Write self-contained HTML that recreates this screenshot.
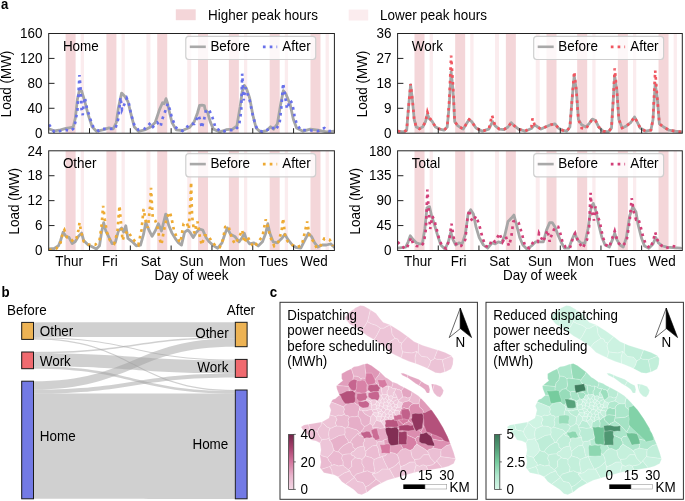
<!DOCTYPE html>
<html><head><meta charset="utf-8"><style>
html,body{margin:0;padding:0;background:#fff;width:685px;height:501px;overflow:hidden}
svg{display:block;will-change:transform}
text{font-family:"Liberation Sans", sans-serif}
</style></head><body>
<svg width="685" height="501" viewBox="0 0 685 501">
<clipPath id="clip00"><rect x="48.7" y="33.5" width="285.7" height="99.69999999999999"/></clipPath>
<g clip-path="url(#clip00)">
<rect x="65.60" y="33.5" width="10.00" height="99.70" fill="#f4d6d9"/>
<rect x="80.70" y="33.5" width="3.30" height="99.70" fill="#fbecee"/>
<rect x="106.41" y="33.5" width="10.00" height="99.70" fill="#f4d6d9"/>
<rect x="121.51" y="33.5" width="3.30" height="99.70" fill="#fbecee"/>
<rect x="157.23" y="33.5" width="10.00" height="99.70" fill="#f4d6d9"/>
<rect x="146.43" y="33.5" width="4.00" height="99.70" fill="#fbecee"/>
<rect x="198.04" y="33.5" width="10.00" height="99.70" fill="#f4d6d9"/>
<rect x="187.24" y="33.5" width="4.00" height="99.70" fill="#fbecee"/>
<rect x="228.86" y="33.5" width="10.00" height="99.70" fill="#f4d6d9"/>
<rect x="243.96" y="33.5" width="3.30" height="99.70" fill="#fbecee"/>
<rect x="269.67" y="33.5" width="10.00" height="99.70" fill="#f4d6d9"/>
<rect x="284.77" y="33.5" width="3.30" height="99.70" fill="#fbecee"/>
<rect x="310.49" y="33.5" width="10.00" height="99.70" fill="#f4d6d9"/>
<rect x="325.59" y="33.5" width="3.30" height="99.70" fill="#fbecee"/>
<polyline points="48.7,128.8 54.3,130.9 60.6,129.9 65.9,128.4 69.0,127.8 73.2,127.1 75.3,118.3 77.4,99.4 79.5,89.9 81.6,91.0 84.8,101.5 88.0,114.1 92.1,126.7 96.4,131.3 102.7,129.9 109.0,127.8 113.2,128.8 116.3,122.5 118.4,107.8 121.6,93.1 124.7,96.2 127.9,101.5 131.0,114.1 134.2,126.7 138.4,131.3 144.7,129.9 151.0,126.7 155.2,122.5 159.4,109.9 162.5,102.7 164.2,103.8 166.0,98.6 167.5,103.0 168.9,109.9 172.0,122.5 176.2,129.9 182.5,130.5 188.8,127.8 190.0,127.0 194.3,121.6 197.5,113.0 199.6,105.5 202.0,105.2 204.3,105.6 205.2,109.7 207.5,112.0 210.2,121.6 213.4,129.1 219.8,131.9 226.2,129.7 232.6,129.1 236.9,125.9 240.1,106.7 242.2,91.8 244.3,85.4 246.5,88.6 249.7,98.2 252.9,115.3 256.1,128.0 260.3,131.9 266.7,130.6 270.6,126.8 273.5,129.3 277.4,123.8 280.6,104.6 283.3,90.7 285.9,93.9 290.2,104.6 293.4,119.5 296.6,128.0 303.0,131.2 310.4,129.1 317.9,130.2 326.4,131.9 334.9,131.2" fill="none" stroke="#a6a6a6" stroke-width="2.8" stroke-linejoin="round" stroke-linecap="round"/>
<polyline points="49.0,124.6 54.3,132.0 60.0,131.0 66.0,130.0 70.0,131.0 73.2,128.8 75.3,122.5 77.4,109.9 78.5,93.1 79.5,75.2 80.6,88.9 81.6,109.9 82.7,115.1 83.7,103.6 84.8,97.3 86.9,107.8 90.0,118.3 93.2,126.7 98.5,130.9 102.7,128.8 109.0,128.8 115.3,128.8 118.4,118.3 120.5,97.3 122.0,109.9 124.7,103.6 126.8,98.3 128.9,103.6 131.0,114.1 134.2,124.6 138.4,129.9 144.7,128.8 151.0,122.5 153.1,126.7 157.3,122.5 160.5,126.7 162.6,118.3 165.7,109.9 167.8,103.6 169.9,109.9 172.0,118.3 176.2,127.8 182.5,130.9 188.0,126.0 190.0,123.8 194.3,123.8 198.5,115.3 200.7,121.6 201.7,128.0 203.9,120.6 206.0,110.0 209.2,110.0 212.4,117.4 215.6,128.0 222.0,131.9 228.4,130.2 234.8,130.2 239.0,125.9 241.2,111.0 242.2,73.7 243.7,100.3 245.4,87.5 247.5,93.9 249.7,100.3 251.8,111.0 253.9,119.5 257.1,129.1 262.5,131.9 268.9,129.1 272.1,127.0 275.3,130.2 279.5,123.8 281.6,104.6 283.1,83.3 284.8,93.9 287.0,108.9 290.2,100.3 292.3,103.5 294.4,115.3 296.6,123.8 300.8,130.2 309.4,130.2 317.9,131.2 324.3,128.0 328.5,131.2 334.0,131.0" fill="none" stroke="#6870ea" stroke-width="2.7" stroke-dasharray="2.7 4.1"/>
</g>
<rect x="48.7" y="33.5" width="285.70" height="99.70" fill="none" stroke="#222" stroke-width="1"/>
<line x1="89.51" y1="133.2" x2="89.51" y2="128.2" stroke="#222" stroke-width="1"/>
<line x1="130.33" y1="133.2" x2="130.33" y2="128.2" stroke="#222" stroke-width="1"/>
<line x1="171.14" y1="133.2" x2="171.14" y2="128.2" stroke="#222" stroke-width="1"/>
<line x1="211.96" y1="133.2" x2="211.96" y2="128.2" stroke="#222" stroke-width="1"/>
<line x1="252.77" y1="133.2" x2="252.77" y2="128.2" stroke="#222" stroke-width="1"/>
<line x1="293.59" y1="133.2" x2="293.59" y2="128.2" stroke="#222" stroke-width="1"/>
<text transform="translate(42.50,38.20) scale(1,1.04)" font-size="13.45" text-anchor="end" font-weight="normal" fill="#000" >160</text>
<line x1="48.7" y1="58.42" x2="54.5" y2="58.42" stroke="#222" stroke-width="1"/>
<text transform="translate(42.50,63.12) scale(1,1.04)" font-size="13.45" text-anchor="end" font-weight="normal" fill="#000" >120</text>
<line x1="48.7" y1="83.35" x2="54.5" y2="83.35" stroke="#222" stroke-width="1"/>
<text transform="translate(42.50,88.05) scale(1,1.04)" font-size="13.45" text-anchor="end" font-weight="normal" fill="#000" >80</text>
<line x1="48.7" y1="108.27" x2="54.5" y2="108.27" stroke="#222" stroke-width="1"/>
<text transform="translate(42.50,112.97) scale(1,1.04)" font-size="13.45" text-anchor="end" font-weight="normal" fill="#000" >40</text>
<text transform="translate(42.50,137.90) scale(1,1.04)" font-size="13.45" text-anchor="end" font-weight="normal" fill="#000" >0</text>
<text transform="translate(10.9,83.95) rotate(-90) scale(1,1.04)" font-size="13.45" text-anchor="middle">Load (MW)</text>
<text transform="translate(62.90,50.70) scale(1,1.04)" font-size="13.45" text-anchor="start" font-weight="normal" fill="#000" >Home</text>
<rect x="185.80" y="36.30" width="129.9" height="23.2" rx="3" fill="#fff" fill-opacity="0.8" stroke="#cfcfcf" stroke-width="1.2"/>
<line x1="189.80" y1="46.80" x2="205.80" y2="46.80" stroke="#a9a9a9" stroke-width="2.6"/>
<text transform="translate(210.40,51.10) scale(1,1.04)" font-size="13.45" text-anchor="start" font-weight="normal" fill="#000" >Before</text>
<line x1="262.90" y1="46.80" x2="277.20" y2="46.80" stroke="#6870ea" stroke-width="2.7" stroke-dasharray="2.7 4.1"/>
<text transform="translate(282.30,51.10) scale(1,1.04)" font-size="13.45" text-anchor="start" font-weight="normal" fill="#000" >After</text>
<clipPath id="clip10"><rect x="397.6" y="33.5" width="284.69999999999993" height="99.69999999999999"/></clipPath>
<g clip-path="url(#clip10)">
<rect x="414.50" y="33.5" width="10.00" height="99.70" fill="#f4d6d9"/>
<rect x="429.60" y="33.5" width="3.30" height="99.70" fill="#fbecee"/>
<rect x="455.17" y="33.5" width="10.00" height="99.70" fill="#f4d6d9"/>
<rect x="470.27" y="33.5" width="3.30" height="99.70" fill="#fbecee"/>
<rect x="505.84" y="33.5" width="10.00" height="99.70" fill="#f4d6d9"/>
<rect x="495.04" y="33.5" width="4.00" height="99.70" fill="#fbecee"/>
<rect x="546.51" y="33.5" width="10.00" height="99.70" fill="#f4d6d9"/>
<rect x="535.71" y="33.5" width="4.00" height="99.70" fill="#fbecee"/>
<rect x="577.19" y="33.5" width="10.00" height="99.70" fill="#f4d6d9"/>
<rect x="592.29" y="33.5" width="3.30" height="99.70" fill="#fbecee"/>
<rect x="617.86" y="33.5" width="10.00" height="99.70" fill="#f4d6d9"/>
<rect x="632.96" y="33.5" width="3.30" height="99.70" fill="#fbecee"/>
<rect x="658.53" y="33.5" width="10.00" height="99.70" fill="#f4d6d9"/>
<rect x="673.63" y="33.5" width="3.30" height="99.70" fill="#fbecee"/>
<polyline points="397.6,131.2 403.5,131.9 406.7,130.2 408.2,111.0 410.6,85.0 412.5,100.3 414.2,119.5 416.3,127.0 419.5,128.5 422.7,127.0 425.5,121.6 427.4,114.2 429.1,118.4 432.3,121.6 435.5,127.0 439.8,129.1 444.0,130.2 447.2,127.0 449.3,104.6 451.1,71.6 453.0,89.7 454.7,121.6 457.9,125.9 463.2,129.1 466.4,123.8 469.2,119.5 471.7,121.6 476.0,128.0 482.4,131.2 488.8,129.1 492.6,121.6 495.2,125.9 499.4,129.1 503.7,129.7 508.0,127.0 511.2,122.7 514.4,125.9 518.6,129.1 525.0,131.2 531.4,128.5 534.6,124.8 537.8,127.0 541.0,129.1 545.4,127.0 550.7,124.8 555.0,123.8 558.2,128.0 562.4,130.2 566.7,131.2 569.9,127.0 572.0,100.3 574.2,75.8 576.3,89.7 578.4,119.5 581.6,124.8 585.9,127.0 589.1,123.8 592.3,119.1 595.5,120.6 598.7,127.0 603.0,131.2 608.3,131.9 611.5,128.0 613.2,100.3 614.7,75.8 616.8,89.7 618.9,119.5 622.1,128.0 626.4,125.9 630.6,122.7 634.5,117.0 637.0,121.6 640.2,128.0 645.6,131.2 650.9,130.2 653.0,119.5 655.2,83.3 657.3,98.2 659.4,123.8 663.7,127.0 669.0,130.2 675.4,131.2 681.8,131.9" fill="none" stroke="#a6a6a6" stroke-width="2.8" stroke-linejoin="round" stroke-linecap="round"/>
<polyline points="397.6,131.2 403.5,131.9 406.7,130.2 408.2,111.0 410.6,84.0 412.5,100.3 414.2,119.5 416.3,127.0 419.5,129.0 422.7,127.0 425.5,121.6 427.4,112.0 429.1,117.0 432.3,121.6 435.5,127.0 439.8,129.1 444.0,130.2 447.2,127.0 449.3,100.0 451.1,55.6 453.0,85.0 454.7,121.6 457.9,125.9 463.2,129.1 466.4,123.8 469.2,119.5 471.7,121.6 476.0,128.0 482.4,131.2 488.8,129.1 492.0,115.3 495.2,125.9 499.4,129.1 503.7,129.7 508.0,127.0 511.2,122.7 514.4,125.9 518.6,129.1 525.0,131.2 531.4,127.0 532.5,118.4 534.6,124.8 537.8,127.0 541.0,129.1 545.4,127.0 550.7,124.8 555.0,123.8 558.2,128.0 562.4,130.2 566.7,131.2 569.9,127.0 572.0,100.3 574.2,71.6 576.3,89.7 578.4,119.5 581.6,128.0 585.9,129.0 589.1,123.8 592.3,119.1 595.5,120.6 598.7,127.0 603.0,131.2 608.3,131.9 611.5,128.0 613.2,100.3 614.7,68.4 616.8,89.7 618.9,119.5 622.1,128.0 626.4,125.9 630.6,122.7 634.5,117.0 637.0,121.6 640.2,128.0 645.6,131.2 650.9,130.2 653.0,119.5 655.2,70.5 657.3,98.2 659.4,123.8 663.7,127.0 669.0,130.2 675.4,131.2 681.8,131.9" fill="none" stroke="#f05660" stroke-width="2.7" stroke-dasharray="2.7 4.1"/>
</g>
<rect x="397.6" y="33.5" width="284.70" height="99.70" fill="none" stroke="#222" stroke-width="1"/>
<line x1="438.27" y1="133.2" x2="438.27" y2="128.2" stroke="#222" stroke-width="1"/>
<line x1="478.94" y1="133.2" x2="478.94" y2="128.2" stroke="#222" stroke-width="1"/>
<line x1="519.61" y1="133.2" x2="519.61" y2="128.2" stroke="#222" stroke-width="1"/>
<line x1="560.29" y1="133.2" x2="560.29" y2="128.2" stroke="#222" stroke-width="1"/>
<line x1="600.96" y1="133.2" x2="600.96" y2="128.2" stroke="#222" stroke-width="1"/>
<line x1="641.63" y1="133.2" x2="641.63" y2="128.2" stroke="#222" stroke-width="1"/>
<text transform="translate(391.40,38.20) scale(1,1.04)" font-size="13.45" text-anchor="end" font-weight="normal" fill="#000" >36</text>
<line x1="397.6" y1="58.42" x2="403.40000000000003" y2="58.42" stroke="#222" stroke-width="1"/>
<text transform="translate(391.40,63.12) scale(1,1.04)" font-size="13.45" text-anchor="end" font-weight="normal" fill="#000" >27</text>
<line x1="397.6" y1="83.35" x2="403.40000000000003" y2="83.35" stroke="#222" stroke-width="1"/>
<text transform="translate(391.40,88.05) scale(1,1.04)" font-size="13.45" text-anchor="end" font-weight="normal" fill="#000" >18</text>
<line x1="397.6" y1="108.27" x2="403.40000000000003" y2="108.27" stroke="#222" stroke-width="1"/>
<text transform="translate(391.40,112.97) scale(1,1.04)" font-size="13.45" text-anchor="end" font-weight="normal" fill="#000" >9</text>
<text transform="translate(391.40,137.90) scale(1,1.04)" font-size="13.45" text-anchor="end" font-weight="normal" fill="#000" >0</text>
<text transform="translate(367.0,83.95) rotate(-90) scale(1,1.04)" font-size="13.45" text-anchor="middle">Load (MW)</text>
<text transform="translate(411.80,50.70) scale(1,1.04)" font-size="13.45" text-anchor="start" font-weight="normal" fill="#000" >Work</text>
<rect x="533.70" y="36.30" width="129.9" height="23.2" rx="3" fill="#fff" fill-opacity="0.8" stroke="#cfcfcf" stroke-width="1.2"/>
<line x1="537.70" y1="46.80" x2="553.70" y2="46.80" stroke="#a9a9a9" stroke-width="2.6"/>
<text transform="translate(558.30,51.10) scale(1,1.04)" font-size="13.45" text-anchor="start" font-weight="normal" fill="#000" >Before</text>
<line x1="610.80" y1="46.80" x2="625.10" y2="46.80" stroke="#f05660" stroke-width="2.7" stroke-dasharray="2.7 4.1"/>
<text transform="translate(630.20,51.10) scale(1,1.04)" font-size="13.45" text-anchor="start" font-weight="normal" fill="#000" >After</text>
<clipPath id="clip01"><rect x="48.7" y="150.8" width="285.7" height="99.69999999999999"/></clipPath>
<g clip-path="url(#clip01)">
<rect x="65.60" y="150.8" width="10.00" height="99.70" fill="#f4d6d9"/>
<rect x="80.70" y="150.8" width="3.30" height="99.70" fill="#fbecee"/>
<rect x="106.41" y="150.8" width="10.00" height="99.70" fill="#f4d6d9"/>
<rect x="121.51" y="150.8" width="3.30" height="99.70" fill="#fbecee"/>
<rect x="157.23" y="150.8" width="10.00" height="99.70" fill="#f4d6d9"/>
<rect x="146.43" y="150.8" width="4.00" height="99.70" fill="#fbecee"/>
<rect x="198.04" y="150.8" width="10.00" height="99.70" fill="#f4d6d9"/>
<rect x="187.24" y="150.8" width="4.00" height="99.70" fill="#fbecee"/>
<rect x="228.86" y="150.8" width="10.00" height="99.70" fill="#f4d6d9"/>
<rect x="243.96" y="150.8" width="3.30" height="99.70" fill="#fbecee"/>
<rect x="269.67" y="150.8" width="10.00" height="99.70" fill="#f4d6d9"/>
<rect x="284.77" y="150.8" width="3.30" height="99.70" fill="#fbecee"/>
<rect x="310.49" y="150.8" width="10.00" height="99.70" fill="#f4d6d9"/>
<rect x="325.59" y="150.8" width="3.30" height="99.70" fill="#fbecee"/>
<polyline points="49.0,248.9 54.3,248.5 58.5,245.8 60.6,240.5 63.1,232.1 65.9,236.3 69.0,237.3 72.2,243.6 75.3,241.5 78.5,236.3 81.6,233.1 83.7,240.5 88.0,244.7 92.1,246.8 96.4,248.9 99.5,245.8 101.6,232.1 103.7,222.6 105.8,231.0 109.0,237.3 112.1,243.6 115.3,242.6 118.4,231.0 121.6,227.9 123.7,232.1 125.8,225.8 127.9,238.4 132.1,241.5 136.3,245.8 140.5,245.1 143.6,234.2 145.8,222.6 148.9,230.0 152.1,236.3 155.2,231.0 158.4,223.7 161.5,231.0 165.7,214.2 168.9,225.8 172.0,233.1 175.2,238.4 178.3,242.6 181.5,245.1 184.6,232.1 187.8,230.0 190.0,232.2 193.2,237.5 196.4,232.2 199.6,229.0 202.8,230.1 206.0,237.5 209.2,241.8 213.4,245.6 217.7,248.2 222.0,242.8 225.2,233.3 227.3,227.9 230.5,234.3 234.8,236.4 239.0,241.8 242.2,237.5 244.3,233.3 246.5,239.6 249.7,243.9 253.9,242.8 258.2,246.0 262.5,241.8 265.7,233.3 267.8,223.7 269.9,233.3 273.1,241.8 277.4,242.8 281.6,238.6 284.8,234.3 288.0,239.6 292.3,245.0 296.6,247.7 300.8,248.2 305.1,239.6 308.3,233.3 311.5,236.4 314.7,242.8 317.9,247.1 322.1,245.0 326.4,245.0 330.7,243.9 334.9,247.7" fill="none" stroke="#a6a6a6" stroke-width="2.8" stroke-linejoin="round" stroke-linecap="round"/>
<polyline points="49.0,250.0 56.4,248.5 60.6,242.6 62.7,233.1 64.4,230.0 66.9,237.3 70.1,238.4 73.2,241.5 76.4,238.4 78.5,230.0 79.5,222.6 81.2,232.1 83.7,241.5 89.0,244.7 95.3,244.7 99.5,240.5 101.6,225.8 103.1,205.8 104.8,219.5 106.9,232.1 110.0,240.5 114.2,243.6 117.4,232.1 119.5,205.8 120.5,217.4 122.6,240.5 124.7,234.2 127.9,231.0 131.0,236.3 134.2,240.5 138.4,244.7 141.5,230.0 143.6,209.0 145.8,221.6 147.9,227.9 150.0,206.9 151.0,187.9 152.7,217.4 155.2,220.5 157.3,225.8 159.4,238.4 161.5,244.7 163.6,232.1 166.8,217.4 169.9,212.1 172.0,220.5 174.1,231.0 177.3,238.4 180.4,242.6 183.6,223.7 186.7,222.6 188.8,229.0 190.5,200.0 191.1,182.1 191.6,201.3 192.1,216.2 194.3,233.3 197.5,221.5 199.6,235.4 201.7,245.0 204.9,235.4 208.1,235.4 211.3,240.7 215.6,246.0 219.8,247.1 223.0,239.6 225.2,226.9 228.4,225.8 231.6,237.5 234.8,243.9 239.0,237.5 242.2,230.1 244.3,242.8 247.5,236.4 250.7,242.8 253.9,247.1 258.2,241.8 262.5,236.4 265.7,219.4 267.8,226.9 270.6,237.5 274.2,246.0 278.4,241.8 281.6,231.1 283.1,218.3 285.3,237.5 288.0,241.8 292.3,245.0 297.6,247.1 301.9,245.0 305.1,231.1 307.2,221.5 309.4,235.4 313.6,241.8 316.8,248.2 321.1,245.0 324.3,238.6 329.6,239.6 332.8,246.0" fill="none" stroke="#eeaa33" stroke-width="2.7" stroke-dasharray="2.7 4.1"/>
</g>
<rect x="48.7" y="150.8" width="285.70" height="99.70" fill="none" stroke="#222" stroke-width="1"/>
<line x1="89.51" y1="250.5" x2="89.51" y2="245.5" stroke="#222" stroke-width="1"/>
<line x1="130.33" y1="250.5" x2="130.33" y2="245.5" stroke="#222" stroke-width="1"/>
<line x1="171.14" y1="250.5" x2="171.14" y2="245.5" stroke="#222" stroke-width="1"/>
<line x1="211.96" y1="250.5" x2="211.96" y2="245.5" stroke="#222" stroke-width="1"/>
<line x1="252.77" y1="250.5" x2="252.77" y2="245.5" stroke="#222" stroke-width="1"/>
<line x1="293.59" y1="250.5" x2="293.59" y2="245.5" stroke="#222" stroke-width="1"/>
<text transform="translate(42.50,155.50) scale(1,1.04)" font-size="13.45" text-anchor="end" font-weight="normal" fill="#000" >24</text>
<line x1="48.7" y1="175.73" x2="54.5" y2="175.73" stroke="#222" stroke-width="1"/>
<text transform="translate(42.50,180.43) scale(1,1.04)" font-size="13.45" text-anchor="end" font-weight="normal" fill="#000" >18</text>
<line x1="48.7" y1="200.65" x2="54.5" y2="200.65" stroke="#222" stroke-width="1"/>
<text transform="translate(42.50,205.35) scale(1,1.04)" font-size="13.45" text-anchor="end" font-weight="normal" fill="#000" >12</text>
<line x1="48.7" y1="225.57" x2="54.5" y2="225.57" stroke="#222" stroke-width="1"/>
<text transform="translate(42.50,230.27) scale(1,1.04)" font-size="13.45" text-anchor="end" font-weight="normal" fill="#000" >6</text>
<text transform="translate(42.50,255.20) scale(1,1.04)" font-size="13.45" text-anchor="end" font-weight="normal" fill="#000" >0</text>
<text transform="translate(18.6,201.25) rotate(-90) scale(1,1.04)" font-size="13.45" text-anchor="middle">Load (MW)</text>
<text transform="translate(62.90,168.00) scale(1,1.04)" font-size="13.45" text-anchor="start" font-weight="normal" fill="#000" >Other</text>
<rect x="185.80" y="153.60" width="129.9" height="23.2" rx="3" fill="#fff" fill-opacity="0.8" stroke="#cfcfcf" stroke-width="1.2"/>
<line x1="189.80" y1="164.10" x2="205.80" y2="164.10" stroke="#a9a9a9" stroke-width="2.6"/>
<text transform="translate(210.40,168.40) scale(1,1.04)" font-size="13.45" text-anchor="start" font-weight="normal" fill="#000" >Before</text>
<line x1="262.90" y1="164.10" x2="277.20" y2="164.10" stroke="#eeaa33" stroke-width="2.7" stroke-dasharray="2.7 4.1"/>
<text transform="translate(282.30,168.40) scale(1,1.04)" font-size="13.45" text-anchor="start" font-weight="normal" fill="#000" >After</text>
<text transform="translate(69.11,266.20) scale(1,1.04)" font-size="13.45" text-anchor="middle" font-weight="normal" fill="#000" >Thur</text>
<text transform="translate(109.92,266.20) scale(1,1.04)" font-size="13.45" text-anchor="middle" font-weight="normal" fill="#000" >Fri</text>
<text transform="translate(150.74,266.20) scale(1,1.04)" font-size="13.45" text-anchor="middle" font-weight="normal" fill="#000" >Sat</text>
<text transform="translate(191.55,266.20) scale(1,1.04)" font-size="13.45" text-anchor="middle" font-weight="normal" fill="#000" >Sun</text>
<text transform="translate(232.36,266.20) scale(1,1.04)" font-size="13.45" text-anchor="middle" font-weight="normal" fill="#000" >Mon</text>
<text transform="translate(273.18,266.20) scale(1,1.04)" font-size="13.45" text-anchor="middle" font-weight="normal" fill="#000" >Tues</text>
<text transform="translate(313.99,266.20) scale(1,1.04)" font-size="13.45" text-anchor="middle" font-weight="normal" fill="#000" >Wed</text>
<text transform="translate(191.55,280.00) scale(1,1.04)" font-size="13.45" text-anchor="middle" font-weight="normal" fill="#000" >Day of week</text>
<clipPath id="clip11"><rect x="397.6" y="150.8" width="284.69999999999993" height="99.69999999999999"/></clipPath>
<g clip-path="url(#clip11)">
<rect x="414.50" y="150.8" width="10.00" height="99.70" fill="#f4d6d9"/>
<rect x="429.60" y="150.8" width="3.30" height="99.70" fill="#fbecee"/>
<rect x="455.17" y="150.8" width="10.00" height="99.70" fill="#f4d6d9"/>
<rect x="470.27" y="150.8" width="3.30" height="99.70" fill="#fbecee"/>
<rect x="505.84" y="150.8" width="10.00" height="99.70" fill="#f4d6d9"/>
<rect x="495.04" y="150.8" width="4.00" height="99.70" fill="#fbecee"/>
<rect x="546.51" y="150.8" width="10.00" height="99.70" fill="#f4d6d9"/>
<rect x="535.71" y="150.8" width="4.00" height="99.70" fill="#fbecee"/>
<rect x="577.19" y="150.8" width="10.00" height="99.70" fill="#f4d6d9"/>
<rect x="592.29" y="150.8" width="3.30" height="99.70" fill="#fbecee"/>
<rect x="617.86" y="150.8" width="10.00" height="99.70" fill="#f4d6d9"/>
<rect x="632.96" y="150.8" width="3.30" height="99.70" fill="#fbecee"/>
<rect x="658.53" y="150.8" width="10.00" height="99.70" fill="#f4d6d9"/>
<rect x="673.63" y="150.8" width="3.30" height="99.70" fill="#fbecee"/>
<polyline points="397.6,248.2 401.4,247.7 405.7,247.1 408.2,241.8 410.3,235.8 413.1,239.6 416.3,242.8 419.5,243.9 422.3,243.9 424.8,229.0 427.0,207.7 429.5,206.6 431.7,216.2 434.4,224.7 437.6,235.4 440.8,245.0 445.1,249.2 448.3,241.8 450.8,232.2 453.0,239.6 455.7,245.0 458.9,242.8 462.1,243.9 465.3,234.3 468.1,214.1 470.7,209.8 473.4,214.1 476.0,226.9 479.2,237.5 483.4,245.0 487.7,248.2 492.0,242.8 495.2,243.9 498.4,241.8 501.6,242.8 504.8,235.4 508.0,221.5 511.2,218.3 513.9,215.1 516.5,224.7 519.7,237.5 522.9,245.0 527.1,249.2 531.4,246.0 535.7,241.8 539.0,241.8 543.3,241.8 546.5,230.1 549.7,222.6 552.2,222.6 555.0,226.9 558.2,235.4 561.4,242.8 564.6,248.2 568.8,248.2 572.0,239.6 574.8,233.3 577.4,239.6 580.6,242.8 584.8,243.5 588.0,229.0 591.2,206.6 593.3,203.4 596.1,211.9 598.7,224.7 601.9,237.5 605.1,245.0 609.3,247.1 612.5,239.6 614.7,233.3 616.8,239.6 620.0,245.0 623.2,247.1 626.4,237.5 629.6,216.2 632.8,206.6 636.0,211.9 638.1,224.7 641.3,237.5 644.5,246.0 648.8,248.2 653.0,243.9 655.8,237.5 658.4,242.8 662.6,246.0 666.9,247.1 673.3,247.7 680.7,248.2" fill="none" stroke="#a6a6a6" stroke-width="2.8" stroke-linejoin="round" stroke-linecap="round"/>
<polyline points="397.6,241.8 401.4,246.0 405.7,249.2 408.9,243.9 411.0,237.5 413.1,243.9 416.3,246.0 420.6,246.5 423.8,242.8 425.9,229.0 427.4,189.6 428.7,209.8 430.2,229.0 432.3,216.2 434.4,220.5 436.6,229.0 438.7,237.5 441.9,246.0 446.2,248.6 449.3,239.6 451.5,223.7 453.6,237.5 456.8,246.0 461.1,246.0 465.3,239.6 467.5,218.3 469.2,209.8 470.7,218.3 472.8,221.5 476.0,216.2 479.2,224.7 482.4,237.5 485.6,246.0 488.8,247.1 492.0,239.6 495.2,241.8 499.4,233.3 502.6,241.8 505.8,236.4 509.0,246.0 511.2,237.5 513.3,221.5 516.5,220.5 518.6,222.6 521.8,233.3 525.0,246.0 529.3,248.2 533.5,241.8 537.8,241.8 539.0,233.3 541.1,237.5 543.3,241.8 547.5,230.1 549.7,241.8 550.7,237.5 552.9,232.2 555.0,226.9 558.2,226.9 560.3,233.3 562.4,241.8 565.6,247.1 569.9,248.2 573.1,237.5 575.2,233.3 578.4,241.8 582.7,248.2 587.0,239.6 589.1,226.9 590.6,192.8 591.9,211.9 594.0,220.5 595.5,206.6 597.6,216.2 599.7,221.5 602.9,237.5 606.1,245.0 609.3,247.1 612.5,237.5 614.7,231.1 617.9,242.8 622.1,246.0 626.4,241.8 629.6,221.5 631.7,198.1 633.8,211.9 636.0,219.4 638.1,218.3 640.2,224.7 642.4,234.3 645.6,243.9 649.8,248.2 653.0,241.8 655.2,232.2 657.3,239.6 660.5,245.0 665.8,248.2 672.2,246.0 678.6,247.1" fill="none" stroke="#d23f78" stroke-width="2.7" stroke-dasharray="2.7 4.1"/>
</g>
<rect x="397.6" y="150.8" width="284.70" height="99.70" fill="none" stroke="#222" stroke-width="1"/>
<line x1="438.27" y1="250.5" x2="438.27" y2="245.5" stroke="#222" stroke-width="1"/>
<line x1="478.94" y1="250.5" x2="478.94" y2="245.5" stroke="#222" stroke-width="1"/>
<line x1="519.61" y1="250.5" x2="519.61" y2="245.5" stroke="#222" stroke-width="1"/>
<line x1="560.29" y1="250.5" x2="560.29" y2="245.5" stroke="#222" stroke-width="1"/>
<line x1="600.96" y1="250.5" x2="600.96" y2="245.5" stroke="#222" stroke-width="1"/>
<line x1="641.63" y1="250.5" x2="641.63" y2="245.5" stroke="#222" stroke-width="1"/>
<text transform="translate(391.40,155.50) scale(1,1.04)" font-size="13.45" text-anchor="end" font-weight="normal" fill="#000" >180</text>
<line x1="397.6" y1="175.73" x2="403.40000000000003" y2="175.73" stroke="#222" stroke-width="1"/>
<text transform="translate(391.40,180.43) scale(1,1.04)" font-size="13.45" text-anchor="end" font-weight="normal" fill="#000" >135</text>
<line x1="397.6" y1="200.65" x2="403.40000000000003" y2="200.65" stroke="#222" stroke-width="1"/>
<text transform="translate(391.40,205.35) scale(1,1.04)" font-size="13.45" text-anchor="end" font-weight="normal" fill="#000" >90</text>
<line x1="397.6" y1="225.57" x2="403.40000000000003" y2="225.57" stroke="#222" stroke-width="1"/>
<text transform="translate(391.40,230.27) scale(1,1.04)" font-size="13.45" text-anchor="end" font-weight="normal" fill="#000" >45</text>
<text transform="translate(391.40,255.20) scale(1,1.04)" font-size="13.45" text-anchor="end" font-weight="normal" fill="#000" >0</text>
<text transform="translate(360.2,201.25) rotate(-90) scale(1,1.04)" font-size="13.45" text-anchor="middle">Load (MW)</text>
<text transform="translate(411.80,168.00) scale(1,1.04)" font-size="13.45" text-anchor="start" font-weight="normal" fill="#000" >Total</text>
<rect x="533.70" y="153.60" width="129.9" height="23.2" rx="3" fill="#fff" fill-opacity="0.8" stroke="#cfcfcf" stroke-width="1.2"/>
<line x1="537.70" y1="164.10" x2="553.70" y2="164.10" stroke="#a9a9a9" stroke-width="2.6"/>
<text transform="translate(558.30,168.40) scale(1,1.04)" font-size="13.45" text-anchor="start" font-weight="normal" fill="#000" >Before</text>
<line x1="610.80" y1="164.10" x2="625.10" y2="164.10" stroke="#d23f78" stroke-width="2.7" stroke-dasharray="2.7 4.1"/>
<text transform="translate(630.20,168.40) scale(1,1.04)" font-size="13.45" text-anchor="start" font-weight="normal" fill="#000" >After</text>
<text transform="translate(417.94,266.20) scale(1,1.04)" font-size="13.45" text-anchor="middle" font-weight="normal" fill="#000" >Thur</text>
<text transform="translate(458.61,266.20) scale(1,1.04)" font-size="13.45" text-anchor="middle" font-weight="normal" fill="#000" >Fri</text>
<text transform="translate(499.28,266.20) scale(1,1.04)" font-size="13.45" text-anchor="middle" font-weight="normal" fill="#000" >Sat</text>
<text transform="translate(539.95,266.20) scale(1,1.04)" font-size="13.45" text-anchor="middle" font-weight="normal" fill="#000" >Sun</text>
<text transform="translate(580.62,266.20) scale(1,1.04)" font-size="13.45" text-anchor="middle" font-weight="normal" fill="#000" >Mon</text>
<text transform="translate(621.29,266.20) scale(1,1.04)" font-size="13.45" text-anchor="middle" font-weight="normal" fill="#000" >Tues</text>
<text transform="translate(661.96,266.20) scale(1,1.04)" font-size="13.45" text-anchor="middle" font-weight="normal" fill="#000" >Wed</text>
<text transform="translate(539.95,280.00) scale(1,1.04)" font-size="13.45" text-anchor="middle" font-weight="normal" fill="#000" >Day of week</text>
<rect x="175.8" y="9.3" width="19.9" height="10.9" fill="#f4d6d9"/>
<text transform="translate(208.10,19.90) scale(1,1.04)" font-size="13.45" text-anchor="start" font-weight="normal" fill="#000" >Higher peak hours</text>
<rect x="348.7" y="9.6" width="19.5" height="10.9" fill="#fbecee"/>
<text transform="translate(380.00,19.90) scale(1,1.04)" font-size="13.45" text-anchor="start" font-weight="normal" fill="#000" >Lower peak hours</text>
<text transform="translate(0.90,8.50) scale(1,1.04)" font-size="13.2" text-anchor="start" font-weight="bold" fill="#000" >a</text>
<text transform="translate(1.50,296.80) scale(1,1.04)" font-size="13.3" text-anchor="start" font-weight="bold" fill="#000" >b</text>
<text transform="translate(269.80,296.60) scale(1,1.04)" font-size="13.3" text-anchor="start" font-weight="bold" fill="#000" >c</text>
<path d="M33.6,322.40 C134.2,322.40 134.2,322.30 234.8,322.30 L234.8,337.10 C134.2,337.10 134.2,337.20 33.6,337.20 Z" fill="#a2a2a2" fill-opacity="0.5"/>
<path d="M33.6,337.20 C134.2,337.20 134.2,359.40 234.8,359.40 L234.8,360.50 C134.2,360.50 134.2,338.30 33.6,338.30 Z" fill="#a2a2a2" fill-opacity="0.5"/>
<path d="M33.6,338.30 C134.2,338.30 134.2,390.00 234.8,390.00 L234.8,391.10 C134.2,391.10 134.2,339.40 33.6,339.40 Z" fill="#a2a2a2" fill-opacity="0.5"/>
<path d="M33.6,352.00 C134.2,352.00 134.2,337.10 234.8,337.10 L234.8,338.40 C134.2,338.40 134.2,353.30 33.6,353.30 Z" fill="#a2a2a2" fill-opacity="0.5"/>
<path d="M33.6,353.30 C134.2,353.30 134.2,360.50 234.8,360.50 L234.8,373.40 C134.2,373.40 134.2,366.20 33.6,366.20 Z" fill="#a2a2a2" fill-opacity="0.5"/>
<path d="M33.6,366.20 C134.2,366.20 134.2,391.10 234.8,391.10 L234.8,393.60 C134.2,393.60 134.2,368.70 33.6,368.70 Z" fill="#a2a2a2" fill-opacity="0.5"/>
<path d="M33.6,381.20 C134.2,381.20 134.2,338.40 234.8,338.40 L234.8,346.70 C134.2,346.70 134.2,389.50 33.6,389.50 Z" fill="#a2a2a2" fill-opacity="0.5"/>
<path d="M33.6,389.50 C134.2,389.50 134.2,373.40 234.8,373.40 L234.8,377.40 C134.2,377.40 134.2,393.50 33.6,393.50 Z" fill="#a2a2a2" fill-opacity="0.5"/>
<path d="M33.6,393.50 C134.2,393.50 134.2,393.60 234.8,393.60 L234.8,499.00 C134.2,499.00 134.2,498.80 33.6,498.80 Z" fill="#a2a2a2" fill-opacity="0.5"/>
<rect x="21.70" y="322.40" width="11.8" height="17.00" fill="#edb354" stroke="#1a1a1a" stroke-width="1"/>
<rect x="21.70" y="352.00" width="11.8" height="16.70" fill="#f06a6f" stroke="#1a1a1a" stroke-width="1"/>
<rect x="21.70" y="381.20" width="11.8" height="117.60" fill="#737ae5" stroke="#1a1a1a" stroke-width="1"/>
<rect x="235.30" y="322.30" width="11.8" height="24.40" fill="#edb354" stroke="#1a1a1a" stroke-width="1"/>
<rect x="235.30" y="359.40" width="11.8" height="18.00" fill="#f06a6f" stroke="#1a1a1a" stroke-width="1"/>
<rect x="235.30" y="390.00" width="11.8" height="108.80" fill="#737ae5" stroke="#1a1a1a" stroke-width="1"/>
<text transform="translate(7.10,315.30) scale(1,1.04)" font-size="13.45" text-anchor="start" font-weight="normal" fill="#000" >Before</text>
<text transform="translate(226.70,314.70) scale(1,1.04)" font-size="13.45" text-anchor="start" font-weight="normal" fill="#000" >After</text>
<text transform="translate(39.70,335.50) scale(1,1.04)" font-size="13.45" text-anchor="start" font-weight="normal" fill="#000" >Other</text>
<text transform="translate(39.70,365.70) scale(1,1.04)" font-size="13.45" text-anchor="start" font-weight="normal" fill="#000" >Work</text>
<text transform="translate(39.80,441.10) scale(1,1.04)" font-size="13.45" text-anchor="start" font-weight="normal" fill="#000" >Home</text>
<text transform="translate(228.80,337.90) scale(1,1.04)" font-size="13.45" text-anchor="end" font-weight="normal" fill="#000" >Other</text>
<text transform="translate(228.40,371.90) scale(1,1.04)" font-size="13.45" text-anchor="end" font-weight="normal" fill="#000" >Work</text>
<text transform="translate(228.30,448.70) scale(1,1.04)" font-size="13.45" text-anchor="end" font-weight="normal" fill="#000" >Home</text>
<clipPath id="mapL"><rect x="280" y="302.3" width="197.4" height="197"/></clipPath>
<g clip-path="url(#mapL)" transform="translate(0,0)">
<path d="M377.0,444.2 L377.1,443.0 L377.2,441.9 L376.1,440.5 L375.7,438.9 L375.5,437.3 L371.7,437.8 L367.9,437.1 L364.2,438.0 L364.6,440.7 L363.1,443.3 L363.6,446.0 L364.7,447.7 L364.5,449.7 L365.7,451.3 L368.9,448.5 L372.2,446.1 L376.5,445.3Z" fill="#ebbdd2" stroke="#fff" stroke-width="0.45" stroke-opacity="0.5"/>
<path d="M390.3,325.0 L390.0,324.8 L383.1,322.2 L379.5,318.0 L375.9,313.2 L370.3,309.7 L367.4,321.8 L371.7,324.0 L376.4,325.4 L380.3,328.3 L384.0,328.3 L387.0,326.4 L390.3,325.0Z" fill="#efc9db" stroke="#fff" stroke-width="0.45" stroke-opacity="0.5"/>
<path d="M335.4,403.6 L343.6,406.9 L346.1,404.3 L348.7,401.9 L352.1,400.6 L350.6,398.9 L348.6,397.7 L347.3,395.9 L339.2,395.1 L339.3,395.3 L335.2,398.8 L332.8,399.4 L331.7,401.1 L331.2,402.1Z" fill="#e4a9c4" stroke="#fff" stroke-width="0.45" stroke-opacity="0.5"/>
<path d="M398.0,456.6 L398.8,458.9 L399.2,461.4 L399.1,463.3 L400.0,465.0 L400.6,466.8 L405.3,464.9 L409.8,462.2 L415.1,462.1 L415.1,461.2 L414.6,460.4 L414.4,459.5 L412.2,456.7 L411.4,453.5 L410.9,450.2 L408.3,449.8 L405.9,448.5 L403.2,448.8 L400.7,450.2 L398.9,452.5 L396.8,454.4Z" fill="#ebbdd2" stroke="#fff" stroke-width="0.45" stroke-opacity="0.5"/>
<path d="M353.8,326.4 L357.1,328.2 L357.1,328.2 L364.2,327.2 L367.4,321.8 L370.3,309.7 L370.0,309.5 L364.0,306.0 L360.4,305.4 L356.0,307.5 L353.8,309.0Z" fill="#edc6d8" stroke="#fff" stroke-width="0.45" stroke-opacity="0.5"/>
<path d="M352.1,475.0 L350.8,473.1 L350.0,470.8 L344.2,472.9 L339.0,476.3 L337.9,476.8 L341.9,481.8 L345.6,484.3 L354.5,477.4 L354.2,477.2 L354.0,477.0 L353.9,476.7Z" fill="#ecc1d5" stroke="#fff" stroke-width="0.45" stroke-opacity="0.5"/>
<path d="M335.5,416.6 L338.4,415.3 L341.8,415.5 L344.7,414.3 L343.7,411.9 L344.5,409.3 L343.6,406.9 L335.4,403.6 L331.2,402.1 L329.3,406.0 L330.9,410.0 L329.7,415.0Z" fill="#ecc1d5" stroke="#fff" stroke-width="0.45" stroke-opacity="0.5"/>
<path d="M385.1,455.9 L386.9,453.7 L389.3,452.6 L388.1,448.1 L384.3,444.8 L384.0,439.9 L381.9,441.2 L379.4,441.2 L377.2,441.9 L377.1,443.0 L377.0,444.2 L376.5,445.3 L378.3,449.1 L378.9,453.3 L380.2,457.3 L381.0,457.2 L381.6,456.6 L382.3,456.3Z" fill="#ecc1d5" stroke="#fff" stroke-width="0.45" stroke-opacity="0.5"/>
<path d="M411.3,395.6 L411.8,393.2 L412.1,391.8 L409.0,390.0 L403.9,387.3 L403.0,388.4 L401.1,390.9 L401.9,392.9 L402.3,394.9 L402.7,397.0 L405.2,396.9 L407.5,398.0 L410.0,397.8Z" fill="#e3a5c1" stroke="#fff" stroke-width="0.45" stroke-opacity="0.5"/>
<path d="M365.0,396.1 L364.2,394.1 L364.3,392.0 L362.8,391.0 L361.3,390.0 L360.2,388.5 L356.2,389.3 L353.3,392.3 L349.6,393.8 L349.1,394.8 L348.2,395.3 L347.3,395.9 L348.6,397.7 L350.6,398.9 L352.1,400.6 L354.0,402.3 L356.0,403.8 L358.0,405.3 L360.6,403.1 L362.0,399.8 L365.1,398.1Z" fill="#e09ab8" stroke="#fff" stroke-width="0.45" stroke-opacity="0.5"/>
<path d="M348.8,470.3 L349.4,470.6 L350.0,470.8 L350.8,473.1 L352.1,475.0 L353.9,476.7 L356.6,474.1 L360.0,473.1 L363.4,471.9 L364.2,467.6 L362.0,463.6 L362.1,459.4 L359.8,458.4 L357.3,458.3 L355.0,457.6 L351.4,460.9 L351.7,466.4 L348.4,469.8Z" fill="#ebbdd2" stroke="#fff" stroke-width="0.45" stroke-opacity="0.5"/>
<path d="M429.6,365.1 L430.8,361.0 L427.4,357.0 L421.7,356.4 L418.1,352.6 L417.7,352.1 L417.2,351.7 L416.5,351.5 L414.9,357.9 L415.5,363.6 L417.6,364.3 L424.8,367.3 L427.5,368.6Z" fill="#eec9da" stroke="#fff" stroke-width="0.45" stroke-opacity="0.5"/>
<path d="M369.3,379.1 L372.1,379.3 L374.8,380.1 L378.9,374.8 L380.2,372.1 L376.1,369.0 L371.4,365.5 L367.3,363.4 L364.8,363.9 L365.1,369.0 L366.6,378.5Z" fill="#df98b7" stroke="#fff" stroke-width="0.45" stroke-opacity="0.5"/>
<path d="M407.9,375.1 L403.3,373.2 L400.7,373.2 L402.3,375.2 L407.4,377.8Z" fill="#e4a8c3" stroke="#fff" stroke-width="0.45" stroke-opacity="0.5"/>
<path d="M373.4,473.3 L374.2,472.5 L375.1,472.0 L371.2,472.4 L367.3,470.7 L363.4,471.9 L360.0,473.1 L356.6,474.1 L353.9,476.7 L354.0,477.0 L354.2,477.2 L354.5,477.4 L357.4,481.5 L363.0,482.6 L365.5,487.1 L369.4,485.0 L372.8,482.1 L376.2,479.3 L375.1,477.4 L373.4,475.9 L372.4,473.9Z" fill="#eabbd1" stroke="#fff" stroke-width="0.45" stroke-opacity="0.5"/>
<path d="M322.2,455.9 L327.5,457.5 L329.9,455.3 L332.0,452.9 L334.0,450.3 L332.9,446.9 L332.0,443.4 L329.8,440.4 L329.6,439.5 L329.2,438.8 L329.3,437.9 L326.9,439.0 L324.3,439.2 L321.8,439.7 L320.0,442.9 L320.0,442.9 L321.0,449.9 L320.3,454.2Z" fill="#edc5d8" stroke="#fff" stroke-width="0.45" stroke-opacity="0.5"/>
<path d="M373.1,387.5 L375.2,386.4 L376.9,384.6 L376.3,383.1 L375.1,381.9 L374.8,380.1 L372.1,379.3 L369.3,379.1 L366.6,378.5 L364.6,378.2 L362.7,378.0 L360.9,378.8 L361.1,382.1 L361.6,385.4 L360.2,388.5 L361.3,390.0 L362.8,391.0 L364.3,392.0 L366.6,391.4 L368.8,391.5 L371.0,392.2 L371.4,391.0 L371.3,389.7 L370.9,388.5Z" fill="#e2a2bf" stroke="#fff" stroke-width="0.45" stroke-opacity="0.5"/>
<path d="M397.4,405.3 L397.5,406.5 L398.2,407.4 L399.3,407.5 L400.4,407.1 L401.4,407.5 L401.7,405.9 L402.5,404.6 L402.6,403.0 L401.4,402.2 L399.8,401.8 L398.6,400.9 L398.0,402.0 L397.7,403.3 L396.9,404.4Z" fill="#f2d5e3" stroke="#fff" stroke-width="0.45" stroke-opacity="0.5"/>
<path d="M401.6,356.8 L402.7,351.9 L401.8,349.0 L401.1,346.0 L401.8,342.9 L399.1,342.0 L397.8,339.0 L395.0,338.2 L388.1,342.8 L384.6,347.0 L390.0,352.4 L396.0,355.4 L400.8,357.8Z" fill="#eec9da" stroke="#fff" stroke-width="0.45" stroke-opacity="0.5"/>
<path d="M411.8,393.2 L411.3,395.6 L410.0,397.8 L410.0,399.0 L409.0,399.8 L408.8,401.0 L410.4,401.7 L411.9,402.6 L413.1,403.7 L415.2,403.9 L417.2,404.0 L419.1,403.2 L419.7,399.4 L420.7,398.1 L418.0,395.4 L412.1,391.8Z" fill="#eabad0" stroke="#fff" stroke-width="0.45" stroke-opacity="0.5"/>
<path d="M429.6,412.6 L431.7,410.1 L431.4,409.7 L425.1,402.6 L420.7,398.1 L419.7,399.4 L419.1,403.2 L419.5,407.1 L422.7,409.7 L423.8,413.3Z" fill="#e09bb9" stroke="#fff" stroke-width="0.45" stroke-opacity="0.5"/>
<path d="M378.9,453.3 L378.3,449.1 L376.5,445.3 L372.2,446.1 L368.9,448.5 L365.7,451.3 L366.0,452.8 L365.5,454.3 L365.2,455.8 L368.2,456.8 L371.3,457.6 L374.0,459.4 L376.1,458.8 L378.0,457.8 L380.2,457.3Z" fill="#ebbcd2" stroke="#fff" stroke-width="0.45" stroke-opacity="0.5"/>
<path d="M435.3,429.1 L433.3,431.1 L432.1,433.7 L430.7,436.2 L431.2,437.5 L432.2,438.3 L433.1,439.2 L441.2,440.8 L448.5,438.9 L447.6,436.7 L443.2,428.0Z" fill="#d57aa1" stroke="#fff" stroke-width="0.45" stroke-opacity="0.5"/>
<path d="M420.3,436.3 L417.2,436.5 L415.4,438.7 L415.4,440.6 L416.7,442.2 L416.8,444.0 L420.3,446.4 L423.9,448.5 L427.4,451.0 L429.0,449.5 L431.2,449.0 L433.1,448.0 L434.0,445.1 L432.3,442.2 L433.1,439.2 L432.2,438.3 L431.2,437.5 L430.7,436.2 L427.8,436.1 L425.2,434.4 L422.2,434.3Z" fill="#dd92b2" stroke="#fff" stroke-width="0.45" stroke-opacity="0.5"/>
<path d="M320.9,425.6 L318.6,428.2 L317.4,431.4 L318.3,434.5 L319.9,437.1 L321.8,439.7 L324.3,439.2 L326.9,439.0 L329.3,437.9 L328.7,434.6 L329.0,431.3 L330.1,428.2 L326.8,426.8 L324.3,424.2 L321.4,422.1 L321.4,422.1Z" fill="#ecc3d6" stroke="#fff" stroke-width="0.45" stroke-opacity="0.5"/>
<path d="M419.7,384.0 L418.9,385.4 L420.7,386.5 L424.7,389.5 L426.8,393.1 L429.3,393.1 L429.9,389.5 L428.8,385.4 L424.7,383.4 L421.4,381.2ZM432.8,390.0 L434.2,384.2 L431.4,383.9 L432.4,389.5 L432.7,390.2Z" fill="#e4a8c3" stroke="#fff" stroke-width="0.45" stroke-opacity="0.5"/>
<path d="M391.9,452.8 L394.4,453.3 L396.8,454.4 L398.9,452.5 L400.7,450.2 L403.2,448.8 L401.1,445.1 L399.0,441.5 L397.3,437.6 L394.3,437.9 L391.3,436.8 L388.4,437.8 L387.2,439.1 L385.5,439.3 L384.0,439.9 L384.3,444.8 L388.1,448.1 L389.3,452.6Z" fill="#e19dbb" stroke="#fff" stroke-width="0.45" stroke-opacity="0.5"/>
<path d="M384.6,427.8 L384.9,427.8 L385.2,427.9 L386.1,425.8 L386.2,423.5 L387.1,421.4 L386.3,420.5 L385.5,419.6 L384.6,418.9 L383.2,419.6 L382.1,420.6 L380.6,421.0 L380.9,421.3 L381.0,421.8 L381.3,422.0 L382.4,423.9 L383.7,425.6 L384.3,427.7Z" fill="#f2d4e2" stroke="#fff" stroke-width="0.45" stroke-opacity="0.5"/>
<path d="M321.2,469.3 L323.9,472.8 L332.4,474.5 L331.8,470.2 L329.8,466.4Z" fill="#eabcd1" stroke="#fff" stroke-width="0.45" stroke-opacity="0.5"/>
<path d="M388.1,342.8 L395.0,338.2 L392.1,334.2 L391.6,329.4 L390.3,325.0 L387.0,326.4 L384.0,328.3 L380.3,328.3 L376.3,336.1 L373.8,339.5 L375.9,340.7 L384.3,346.7 L384.6,347.0Z" fill="#edc4d7" stroke="#fff" stroke-width="0.45" stroke-opacity="0.5"/>
<path d="M426.3,466.0 L423.1,464.7 L419.5,466.2 L416.2,464.8 L413.8,472.8 L416.6,472.0 L428.2,470.1Z" fill="#eec9da" stroke="#fff" stroke-width="0.45" stroke-opacity="0.5"/>
<path d="M400.6,466.8 L400.0,465.0 L399.1,463.3 L399.2,461.4 L396.5,464.6 L393.1,467.0 L389.3,468.8 L394.5,478.2 L401.3,476.2Z" fill="#ecc1d5" stroke="#fff" stroke-width="0.45" stroke-opacity="0.5"/>
<path d="M442.1,467.9 L448.5,466.3 L453.8,463.6 L455.6,459.1 L455.4,458.5 L440.5,456.5 L439.1,457.9 L438.0,459.5 L436.5,460.8Z" fill="#ecc3d6" stroke="#fff" stroke-width="0.45" stroke-opacity="0.5"/>
<path d="M398.3,417.0 L398.0,417.1 L397.6,417.0 L398.7,420.2 L401.0,422.5 L403.3,424.8 L404.8,423.2 L407.1,422.6 L408.6,421.0 L408.6,420.0 L408.8,419.0 L409.0,418.1 L409.1,417.2 L409.7,416.4 L409.7,415.5 L406.4,415.1 L403.1,414.7 L399.8,415.2 L399.5,415.8 L399.2,416.4 L398.7,417.0Z" fill="#d579a0" stroke="#fff" stroke-width="0.45" stroke-opacity="0.5"/>
<path d="M399.0,441.5 L401.1,445.1 L403.2,448.8 L405.9,448.5 L408.3,449.8 L410.9,450.2 L413.4,448.6 L414.8,446.0 L416.8,444.0 L416.7,442.2 L415.4,440.6 L415.4,438.7 L411.9,437.0 L408.3,435.5 L405.1,433.3 L402.7,435.1 L400.2,436.8 L397.3,437.6Z" fill="#d77fa5" stroke="#fff" stroke-width="0.45" stroke-opacity="0.5"/>
<path d="M370.2,421.5 L370.6,419.3 L370.7,417.1 L367.5,415.4 L364.5,413.6 L362.3,410.6 L361.5,410.0 L360.4,410.2 L359.5,409.7 L358.4,411.7 L358.2,413.9 L358.0,416.1 L360.5,419.3 L361.1,423.6 L364.2,426.5 L366.3,426.0 L368.1,424.8 L369.9,423.7Z" fill="#e7b2cb" stroke="#fff" stroke-width="0.45" stroke-opacity="0.5"/>
<path d="M421.4,432.6 L421.5,433.7 L422.2,434.3 L425.2,434.4 L427.8,436.1 L430.7,436.2 L432.1,433.7 L433.3,431.1 L435.3,429.1 L433.9,426.7 L433.2,424.1 L432.9,421.5 L431.0,420.0 L428.8,419.2 L426.4,419.1 L424.4,423.4 L422.9,427.9 L420.6,432.0Z" fill="#da87ab" stroke="#fff" stroke-width="0.45" stroke-opacity="0.5"/>
<path d="M432.8,390.0 L432.7,390.2 L433.9,393.1 L437.0,396.2 L440.1,397.2 L442.6,394.1 L443.6,390.5 L441.1,386.5 L436.0,384.4 L434.2,384.2Z" fill="#eabbd1" stroke="#fff" stroke-width="0.45" stroke-opacity="0.5"/>
<path d="M424.4,416.3 L425.6,417.6 L426.4,419.1 L428.8,419.2 L431.0,420.0 L432.9,421.5 L436.3,416.7 L436.3,416.7 L431.7,410.1 L429.6,412.6 L423.8,413.3 L423.6,413.8 L423.6,414.3 L423.7,414.8Z" fill="#d2749c" stroke="#fff" stroke-width="0.45" stroke-opacity="0.5"/>
<path d="M344.2,445.0 L340.6,447.9 L338.0,451.8 L339.8,452.6 L341.1,453.9 L342.5,455.1 L345.2,454.3 L348.0,454.0 L350.8,453.9 L352.0,451.9 L354.4,451.1 L355.5,449.1 L353.1,447.3 L352.8,444.0 L350.5,442.2 L349.7,442.5 L349.0,442.4 L348.3,442.7Z" fill="#e9b9cf" stroke="#fff" stroke-width="0.45" stroke-opacity="0.5"/>
<path d="M383.9,394.9 L385.8,394.4 L387.5,394.8 L387.0,391.8 L388.7,389.0 L388.4,385.9 L385.8,386.2 L383.3,385.1 L380.7,385.0 L381.5,388.0 L381.6,391.2 L382.2,394.3Z" fill="#eec6d9" stroke="#fff" stroke-width="0.45" stroke-opacity="0.5"/>
<path d="M353.6,376.2 L356.3,376.3 L358.8,377.1 L360.9,378.8 L362.7,378.0 L364.6,378.2 L366.6,378.5 L365.1,369.0 L364.8,363.9 L363.2,364.3 L358.5,366.1 L353.9,366.7 L351.3,368.7Z" fill="#e7b2ca" stroke="#fff" stroke-width="0.45" stroke-opacity="0.5"/>
<path d="M429.6,365.1 L427.5,368.6 L430.8,370.3 L435.5,372.7 L440.3,373.3 L444.8,371.9 L444.8,371.8 L443.7,365.8 L442.3,359.7 L439.7,359.2 L437.0,359.2 L434.4,358.2 L433.5,359.4 L432.1,360.1 L430.8,361.0Z" fill="#ecc3d6" stroke="#fff" stroke-width="0.45" stroke-opacity="0.5"/>
<path d="M382.5,468.9 L377.8,472.5 L372.4,473.9 L373.4,475.9 L375.1,477.4 L376.2,479.3 L381.3,483.2 L387.4,480.3 L394.5,478.2 L389.3,468.8 L389.0,469.0 L388.6,468.9 L388.3,469.1Z" fill="#eec8da" stroke="#fff" stroke-width="0.45" stroke-opacity="0.5"/>
<path d="M381.6,456.6 L381.0,457.2 L380.2,457.3 L378.0,457.8 L376.1,458.8 L374.0,459.4 L373.5,463.7 L374.2,467.9 L375.1,472.0 L374.2,472.5 L373.4,473.3 L372.4,473.9 L377.8,472.5 L382.5,468.9 L388.3,469.1 L386.1,464.9 L384.1,460.7 L382.3,456.3Z" fill="#edc3d7" stroke="#fff" stroke-width="0.45" stroke-opacity="0.5"/>
<path d="M334.4,426.4 L332.4,427.7 L330.1,428.2 L329.0,431.3 L328.7,434.6 L329.3,437.9 L329.2,438.8 L329.6,439.5 L329.8,440.4 L334.6,438.1 L339.2,435.6 L344.6,434.8 L345.2,432.5 L345.0,430.3 L345.1,428.0 L342.4,426.6 L339.6,426.1 L336.6,426.0Z" fill="#ebbfd4" stroke="#fff" stroke-width="0.45" stroke-opacity="0.5"/>
<path d="M364.5,449.7 L364.7,447.7 L363.6,446.0 L360.7,446.5 L357.9,447.3 L355.5,449.1 L354.4,451.1 L352.0,451.9 L350.8,453.9 L351.9,455.6 L354.0,456.0 L355.0,457.6 L357.3,458.3 L359.8,458.4 L362.1,459.4 L363.2,458.2 L364.5,457.2 L365.2,455.8 L365.5,454.3 L366.0,452.8 L365.7,451.3Z" fill="#edc4d7" stroke="#fff" stroke-width="0.45" stroke-opacity="0.5"/>
<path d="M418.1,352.6 L421.7,356.4 L427.4,357.0 L430.8,361.0 L432.1,360.1 L433.5,359.4 L434.4,358.2 L437.6,349.9 L429.6,347.6 L422.4,345.2 L418.5,343.5Z" fill="#eec9db" stroke="#fff" stroke-width="0.45" stroke-opacity="0.5"/>
<path d="M378.9,374.8 L374.8,380.1 L375.1,381.9 L376.3,383.1 L376.9,384.6 L378.2,384.5 L379.5,384.6 L380.7,385.0 L383.3,385.1 L385.8,386.2 L388.4,385.9 L389.5,386.6 L390.7,386.9 L391.6,387.8 L393.0,383.4 L392.8,382.0 L392.4,381.9 L387.7,378.4 L385.4,377.2 L380.7,372.5 L380.2,372.1Z" fill="#e7b0c9" stroke="#fff" stroke-width="0.45" stroke-opacity="0.5"/>
<path d="M384.1,460.7 L386.1,464.9 L388.3,469.1 L388.6,468.9 L389.0,469.0 L389.3,468.8 L393.1,467.0 L396.5,464.6 L399.2,461.4 L398.8,458.9 L398.0,456.6 L396.8,454.4 L394.4,453.3 L391.9,452.8 L389.3,452.6 L386.9,453.7 L385.1,455.9 L382.3,456.3Z" fill="#eabcd2" stroke="#fff" stroke-width="0.45" stroke-opacity="0.5"/>
<path d="M375.1,409.6 L373.5,409.6 L372.3,410.4 L372.6,411.4 L373.2,412.1 L374.0,412.7 L375.5,412.8 L377.0,413.0 L378.4,412.6 L378.4,412.4 L378.3,412.4 L378.3,412.3 L378.5,412.2 L378.7,412.3 L378.9,412.3 L377.8,411.4 L377.2,410.1 L376.4,408.9 L376.4,408.8 L376.4,408.8 L376.3,408.7Z" fill="#eec8da" stroke="#fff" stroke-width="0.45" stroke-opacity="0.5"/>
<path d="M366.5,492.4 L367.8,491.8 L372.8,487.8 L380.0,483.8 L381.3,483.2 L376.2,479.3 L372.8,482.1 L369.4,485.0 L365.5,487.1Z" fill="#eabcd1" stroke="#fff" stroke-width="0.45" stroke-opacity="0.5"/>
<path d="M380.8,406.0 L382.0,406.5 L383.2,407.0 L383.2,406.4 L383.6,405.9 L383.6,405.2 L383.4,404.6 L383.7,403.8 L383.5,403.2 L382.7,403.0 L381.8,403.1 L381.0,402.8 L380.4,402.9 L379.9,403.4 L379.4,403.6 L379.3,404.0 L379.4,404.5 L379.3,404.9 L379.3,405.2 L379.5,405.4 L379.5,405.8Z" fill="#f0cddd" stroke="#fff" stroke-width="0.45" stroke-opacity="0.5"/>
<path d="M375.8,399.1 L376.3,399.0 L376.8,398.9 L378.4,397.9 L378.9,395.9 L380.4,394.8 L377.4,392.4 L373.3,391.7 L370.9,388.5 L371.3,389.7 L371.4,391.0 L371.0,392.2 L372.0,394.3 L372.4,396.7 L373.9,398.6 L374.3,399.0 L374.8,399.3 L375.4,399.4Z" fill="#ecc0d4" stroke="#fff" stroke-width="0.45" stroke-opacity="0.5"/>
<path d="M345.6,484.3 L347.9,485.8 L353.9,489.8 L357.9,493.8 L361.8,494.8 L366.5,492.4 L365.5,487.1 L363.0,482.6 L357.4,481.5 L354.5,477.4Z" fill="#edc3d7" stroke="#fff" stroke-width="0.45" stroke-opacity="0.5"/>
<path d="M398.4,428.3 L395.8,429.4 L393.3,428.4 L391.7,429.0 L390.1,429.8 L388.4,429.8 L387.5,432.5 L387.9,435.2 L388.4,437.8 L391.3,436.8 L394.3,437.9 L397.3,437.6 L400.2,436.8 L402.7,435.1 L405.1,433.3 L403.5,432.0 L402.3,430.4 L400.9,428.9Z" fill="#e09ab9" stroke="#fff" stroke-width="0.45" stroke-opacity="0.5"/>
<path d="M402.2,426.0 L401.7,427.5 L400.9,428.9 L402.3,430.4 L403.5,432.0 L405.1,433.3 L408.3,435.5 L411.9,437.0 L415.4,438.7 L417.2,436.5 L420.3,436.3 L422.2,434.3 L421.5,433.7 L421.4,432.6 L420.6,432.0 L417.0,427.9 L413.1,424.1 L408.6,421.0 L407.1,422.6 L404.8,423.2 L403.3,424.8Z" fill="#db8daf" stroke="#fff" stroke-width="0.45" stroke-opacity="0.5"/>
<path d="M349.4,386.6 L350.1,382.8 L352.9,379.9 L353.6,376.2 L351.3,368.7 L350.9,369.0 L346.9,370.8 L341.6,373.7 L341.6,378.4 L342.8,380.7 L340.4,382.4 L336.9,385.5Z" fill="#e19ebc" stroke="#fff" stroke-width="0.45" stroke-opacity="0.5"/>
<path d="M371.4,402.7 L370.9,401.9 L370.6,401.1 L368.7,400.1 L366.7,399.5 L365.1,398.1 L362.0,399.8 L360.6,403.1 L358.0,405.3 L358.5,405.6 L359.1,405.8 L359.6,406.1 L363.7,405.9 L367.6,404.4 L371.6,403.6Z" fill="#efccdd" stroke="#fff" stroke-width="0.45" stroke-opacity="0.5"/>
<path d="M416.2,464.8 L415.8,463.9 L415.2,463.1 L415.1,462.1 L409.8,462.2 L405.3,464.9 L400.6,466.8 L401.3,476.2 L402.0,476.0 L413.8,472.8Z" fill="#eec9db" stroke="#fff" stroke-width="0.45" stroke-opacity="0.5"/>
<path d="M372.8,405.3 L374.3,404.5 L375.9,405.0 L375.7,403.7 L376.5,402.5 L376.7,401.3 L376.2,400.6 L375.9,400.0 L375.4,399.4 L374.8,399.3 L374.3,399.0 L373.9,398.6 L372.8,399.5 L371.9,400.6 L370.6,401.1 L370.9,401.9 L371.4,402.7 L371.6,403.6 L371.4,404.0 L371.5,404.5 L371.2,404.9Z" fill="#efcadb" stroke="#fff" stroke-width="0.45" stroke-opacity="0.5"/>
<path d="M345.0,430.3 L345.2,432.5 L344.6,434.8 L345.6,437.5 L347.7,439.8 L348.3,442.7 L349.0,442.4 L349.7,442.5 L350.5,442.2 L352.3,438.9 L355.0,436.4 L357.7,433.8 L358.5,433.3 L359.5,433.4 L360.3,432.9 L356.7,429.8 L352.2,428.4 L347.8,427.0 L347.0,427.5 L346.1,427.9 L345.1,428.0Z" fill="#eabad0" stroke="#fff" stroke-width="0.45" stroke-opacity="0.5"/>
<path d="M359.1,405.8 L358.5,405.6 L358.0,405.3 L356.0,403.8 L354.0,402.3 L352.1,400.6 L348.7,401.9 L346.1,404.3 L343.6,406.9 L344.5,409.3 L343.7,411.9 L344.7,414.3 L345.9,415.8 L348.1,415.7 L349.2,417.3 L352.1,416.7 L355.1,416.9 L358.0,416.1 L358.2,413.9 L358.4,411.7 L359.5,409.7 L359.6,408.5 L359.9,407.3 L359.6,406.1Z" fill="#e6aec8" stroke="#fff" stroke-width="0.45" stroke-opacity="0.5"/>
<path d="M407.4,352.6 L412.0,353.1 L416.5,351.5 L417.2,351.7 L417.7,352.1 L418.1,352.6 L418.5,343.5 L414.0,341.6 L408.0,336.8 L407.6,336.5 L401.8,342.9 L401.1,346.0 L401.8,349.0 L402.7,351.9Z" fill="#edc3d7" stroke="#fff" stroke-width="0.45" stroke-opacity="0.5"/>
<path d="M334.1,464.6 L338.7,466.1 L343.1,465.1 L343.2,461.8 L341.7,458.5 L342.5,455.1 L341.1,453.9 L339.8,452.6 L338.0,451.8 L336.6,451.6 L335.3,451.1 L334.0,450.3 L332.0,452.9 L329.9,455.3 L327.5,457.5 L328.7,460.4 L330.8,462.8 L331.4,465.6Z" fill="#eab9d0" stroke="#fff" stroke-width="0.45" stroke-opacity="0.5"/>
<path d="M372.4,396.7 L372.0,394.3 L371.0,392.2 L368.8,391.5 L366.6,391.4 L364.3,392.0 L364.2,394.1 L365.0,396.1 L365.1,398.1 L366.7,399.5 L368.7,400.1 L370.6,401.1 L371.9,400.6 L372.8,399.5 L373.9,398.6Z" fill="#edc5d8" stroke="#fff" stroke-width="0.45" stroke-opacity="0.5"/>
<path d="M391.4,409.0 L390.8,409.8 L390.7,410.7 L391.5,411.3 L392.0,412.1 L392.6,412.9 L393.2,412.7 L393.8,412.6 L394.3,412.5 L394.6,411.6 L394.7,410.7 L395.1,409.9 L393.7,409.7 L392.6,409.0 L391.6,408.1Z" fill="#f1d0df" stroke="#fff" stroke-width="0.45" stroke-opacity="0.5"/>
<path d="M380.4,428.3 L376.5,427.5 L372.6,427.7 L374.3,430.7 L373.4,434.4 L375.5,437.3 L375.7,438.9 L376.1,440.5 L377.2,441.9 L379.4,441.2 L381.9,441.2 L384.0,439.9 L385.5,439.3 L387.2,439.1 L388.4,437.8 L387.9,435.2 L387.5,432.5 L388.4,429.8 L387.3,429.2 L386.4,428.4 L385.2,427.9 L384.9,427.8 L384.6,427.8 L384.3,427.7Z" fill="#e5aac5" stroke="#fff" stroke-width="0.45" stroke-opacity="0.5"/>
<path d="M309.8,429.1 L312.1,430.6 L314.8,430.8 L317.4,431.4 L318.6,428.2 L320.9,425.6 L321.4,422.1 L316.0,422.9 L310.0,424.0 L308.4,424.2Z" fill="#eabbd1" stroke="#fff" stroke-width="0.45" stroke-opacity="0.5"/>
<path d="M309.8,429.1 L308.4,424.2 L304.0,424.9 L301.0,426.9 L303.0,429.9 L305.1,432.0Z" fill="#ebbdd2" stroke="#fff" stroke-width="0.45" stroke-opacity="0.5"/>
<path d="M401.2,409.2 L400.7,410.4 L400.0,411.5 L399.9,412.7 L399.9,414.0 L399.8,415.2 L403.1,414.7 L406.4,415.1 L409.7,415.5 L409.4,413.1 L409.7,410.5 L409.0,408.1 L406.7,408.7 L404.3,407.6 L402.0,408.2Z" fill="#d57aa1" stroke="#fff" stroke-width="0.45" stroke-opacity="0.5"/>
<path d="M419.7,459.1 L423.7,454.8 L429.1,454.8 L428.9,453.3 L428.0,452.2 L427.4,451.0 L423.9,448.5 L420.3,446.4 L416.8,444.0 L414.8,446.0 L413.4,448.6 L410.9,450.2 L411.4,453.5 L412.2,456.7 L414.4,459.5Z" fill="#ebbfd3" stroke="#fff" stroke-width="0.45" stroke-opacity="0.5"/>
<path d="M440.7,451.8 L440.9,454.2 L440.5,456.5 L455.4,458.5 L453.8,452.8 L451.2,445.6 L450.7,444.3 L446.2,445.6 L441.2,449.5Z" fill="#eab9d0" stroke="#fff" stroke-width="0.45" stroke-opacity="0.5"/>
<path d="M394.9,407.0 L395.7,407.3 L396.5,407.4 L397.0,407.5 L397.6,407.4 L398.2,407.4 L397.5,406.5 L397.4,405.3 L396.9,404.4 L396.2,404.6 L395.5,404.4 L394.8,404.4 L394.4,405.1 L394.2,405.9 L394.1,406.8Z" fill="#f1d0e0" stroke="#fff" stroke-width="0.45" stroke-opacity="0.5"/>
<path d="M394.1,422.8 L393.9,425.6 L393.3,428.4 L395.8,429.4 L398.4,428.3 L400.9,428.9 L401.7,427.5 L402.2,426.0 L403.3,424.8 L401.0,422.5 L398.7,420.2 L397.6,417.0 L396.0,418.0 L394.9,419.6 L393.0,420.1Z" fill="#d77ea4" stroke="#fff" stroke-width="0.45" stroke-opacity="0.5"/>
<path d="M391.4,414.2 L390.3,414.6 L389.3,415.0 L389.4,415.5 L389.4,415.9 L389.3,416.3 L390.5,417.3 L392.3,417.1 L393.5,418.2 L393.0,416.7 L392.5,415.3 L392.4,413.7Z" fill="#eec7da" stroke="#fff" stroke-width="0.45" stroke-opacity="0.5"/>
<path d="M371.5,404.5 L371.4,404.0 L371.6,403.6 L367.6,404.4 L363.7,405.9 L359.6,406.1 L359.9,407.3 L359.6,408.5 L359.5,409.7 L360.4,410.2 L361.5,410.0 L362.3,410.6 L365.6,411.0 L368.8,410.1 L371.9,409.5 L371.9,408.0 L371.3,406.5 L371.2,404.9Z" fill="#eec6d9" stroke="#fff" stroke-width="0.45" stroke-opacity="0.5"/>
<path d="M428.0,452.2 L428.9,453.3 L429.1,454.8 L430.3,458.1 L432.8,460.4 L435.0,463.0 L435.5,462.3 L436.3,461.7 L436.5,460.8 L438.0,459.5 L439.1,457.9 L440.5,456.5 L440.9,454.2 L440.7,451.8 L441.2,449.5 L438.5,448.9 L435.8,448.6 L433.1,448.0 L431.2,449.0 L429.0,449.5 L427.4,451.0Z" fill="#ebbfd4" stroke="#fff" stroke-width="0.45" stroke-opacity="0.5"/>
<path d="M341.8,415.5 L338.4,415.3 L335.5,416.6 L336.8,419.6 L335.3,423.0 L336.6,426.0 L339.6,426.1 L342.4,426.6 L345.1,428.0 L346.1,427.9 L347.0,427.5 L347.8,427.0 L349.0,423.8 L348.1,420.4 L349.2,417.3 L348.1,415.7 L345.9,415.8 L344.7,414.3Z" fill="#e9b9cf" stroke="#fff" stroke-width="0.45" stroke-opacity="0.5"/>
<path d="M376.3,336.1 L380.3,328.3 L376.4,325.4 L371.7,324.0 L367.4,321.8 L364.2,327.2 L357.1,328.2 L357.1,328.2 L358.0,328.7 L367.5,335.9 L373.8,339.5Z" fill="#edc6d8" stroke="#fff" stroke-width="0.45" stroke-opacity="0.5"/>
<path d="M419.7,384.0 L421.4,381.2 L418.6,379.3 L410.4,376.2 L407.9,375.1 L407.4,377.8 L408.4,378.3 L415.5,383.4 L418.9,385.4Z" fill="#e4a8c3" stroke="#fff" stroke-width="0.45" stroke-opacity="0.5"/>
<path d="M376.5,417.9 L376.8,419.1 L376.5,420.2 L378.1,420.9 L379.7,421.5 L381.3,422.0 L381.0,421.8 L380.9,421.3 L380.6,421.0 L380.4,419.5 L381.5,418.3 L381.4,416.9 L380.2,416.6 L378.8,416.6 L377.6,416.0 L377.4,416.4 L377.1,416.7 L376.6,416.8Z" fill="#f2d4e2" stroke="#fff" stroke-width="0.45" stroke-opacity="0.5"/>
<path d="M375.9,400.0 L376.2,400.6 L376.7,401.3 L377.8,401.8 L378.5,402.9 L379.4,403.6 L379.9,403.4 L380.4,402.9 L381.0,402.8 L381.1,401.9 L381.2,401.0 L380.8,400.2 L379.5,399.7 L378.2,399.2 L376.8,398.9 L376.3,399.0 L375.8,399.1 L375.4,399.4Z" fill="#f2d5e3" stroke="#fff" stroke-width="0.45" stroke-opacity="0.5"/>
<path d="M395.2,410.2 L395.1,410.1 L395.1,409.9 L394.7,410.7 L394.6,411.6 L394.3,412.5 L395.2,414.5 L396.8,415.9 L398.7,417.0 L399.2,416.4 L399.5,415.8 L399.8,415.2 L399.9,414.0 L399.9,412.7 L400.0,411.5 L398.5,410.6 L396.9,410.6 L395.3,410.3Z" fill="#efcadb" stroke="#fff" stroke-width="0.45" stroke-opacity="0.5"/>
<path d="M321.8,439.7 L319.9,437.1 L318.3,434.5 L317.4,431.4 L314.8,430.8 L312.1,430.6 L309.8,429.1 L305.1,432.0 L308.0,434.9 L311.0,439.9 L316.0,440.9 L320.0,442.9Z" fill="#ecc0d5" stroke="#fff" stroke-width="0.45" stroke-opacity="0.5"/>
<path d="M401.6,356.8 L400.8,357.8 L402.0,358.4 L409.2,361.4 L415.5,363.6 L414.9,357.9 L416.5,351.5 L412.0,353.1 L407.4,352.6 L402.7,351.9Z" fill="#edc4d7" stroke="#fff" stroke-width="0.45" stroke-opacity="0.5"/>
<path d="M379.4,406.6 L379.0,407.3 L378.5,408.0 L379.3,408.9 L380.3,409.3 L381.3,409.7 L381.9,409.0 L382.3,408.2 L383.0,407.6 L383.0,407.4 L383.2,407.2 L383.2,407.0 L382.0,406.5 L380.8,406.0 L379.5,405.8Z" fill="#efcadc" stroke="#fff" stroke-width="0.45" stroke-opacity="0.5"/>
<path d="M382.3,416.2 L383.3,416.6 L384.4,416.9 L384.7,416.9 L385.1,416.8 L385.4,416.9 L385.5,416.0 L386.0,415.2 L386.0,414.2 L385.2,413.6 L385.1,412.5 L384.3,412.0 L384.1,412.1 L383.9,412.2 L383.6,412.3 L383.0,413.0 L382.4,413.8 L382.1,414.7 L381.9,415.2 L381.7,415.6 L381.3,415.9Z" fill="#f0cfdf" stroke="#fff" stroke-width="0.45" stroke-opacity="0.5"/>
<path d="M376.5,402.5 L375.7,403.7 L375.9,405.0 L376.1,405.2 L376.3,405.3 L376.4,405.5 L377.3,405.1 L378.4,405.3 L379.3,404.9 L379.4,404.5 L379.3,404.0 L379.4,403.6 L378.5,402.9 L377.8,401.8 L376.7,401.3Z" fill="#f1d0df" stroke="#fff" stroke-width="0.45" stroke-opacity="0.5"/>
<path d="M375.0,416.3 L374.0,414.7 L372.5,414.0 L372.2,415.2 L371.2,416.0 L370.7,417.1 L370.6,419.3 L370.2,421.5 L369.9,423.7 L371.0,424.2 L371.8,425.1 L372.6,426.0 L374.2,424.2 L375.1,422.0 L376.5,420.2 L376.8,419.1 L376.5,417.9 L376.6,416.8Z" fill="#efcadb" stroke="#fff" stroke-width="0.45" stroke-opacity="0.5"/>
<path d="M375.1,422.0 L374.2,424.2 L372.6,426.0 L372.7,426.6 L372.7,427.2 L372.6,427.7 L376.5,427.5 L380.4,428.3 L384.3,427.7 L383.7,425.6 L382.4,423.9 L381.3,422.0 L379.7,421.5 L378.1,420.9 L376.5,420.2Z" fill="#eabcd1" stroke="#fff" stroke-width="0.45" stroke-opacity="0.5"/>
<path d="M397.0,397.2 L395.8,394.5 L394.0,392.0 L393.0,393.3 L393.4,395.1 L392.5,396.4 L392.8,396.7 L393.0,397.0 L393.2,397.3 L395.0,397.8 L396.9,397.7 L397.2,397.8ZM397.8,399.6 L397.9,399.7 L398.0,399.9 L398.1,400.0 L397.9,399.4Z" fill="#eec9db" stroke="#fff" stroke-width="0.45" stroke-opacity="0.5"/>
<path d="M331.5,465.9 L330.8,462.8 L328.7,460.4 L327.5,457.5 L322.2,455.9 L320.3,454.2 L320.0,455.9 L321.0,461.9 L320.0,467.8 L321.2,469.3Z" fill="#eabbd1" stroke="#fff" stroke-width="0.45" stroke-opacity="0.5"/>
<path d="M388.4,398.0 L388.4,396.7 L387.9,395.6 L387.7,395.4 L387.4,395.3 L387.2,395.2 L386.6,396.2 L385.9,397.3 L385.4,398.3 L386.2,399.0 L387.0,399.8 L387.3,400.8 L387.7,400.2 L388.4,399.8 L388.9,399.2Z" fill="#eec9da" stroke="#fff" stroke-width="0.45" stroke-opacity="0.5"/>
<path d="M408.8,419.0 L408.6,420.0 L408.6,421.0 L413.1,424.1 L417.0,427.9 L420.6,432.0 L422.9,427.9 L424.4,423.4 L426.4,419.1 L425.6,417.6 L424.4,416.3 L423.7,414.8 L419.1,417.2 L414.0,417.6 L409.0,418.1Z" fill="#d882a7" stroke="#fff" stroke-width="0.45" stroke-opacity="0.5"/>
<path d="M397.9,400.1 L398.4,400.4 L398.6,400.9 L399.8,401.8 L401.4,402.2 L402.6,403.0 L404.6,401.9 L406.7,401.4 L408.8,401.0 L409.0,399.8 L410.0,399.0 L410.0,397.8 L407.5,398.0 L405.2,396.9 L402.7,397.0 L401.1,398.0 L400.0,399.5 L398.1,400.0 L398.0,399.9 L397.9,399.7 L397.8,399.6Z" fill="#ebbed3" stroke="#fff" stroke-width="0.45" stroke-opacity="0.5"/>
<path d="M442.3,359.7 L443.7,365.8 L444.8,371.8 L444.8,371.9 L446.3,371.5 L451.1,369.1 L452.9,364.3 L453.3,358.4 L451.6,356.1Z" fill="#eec8da" stroke="#fff" stroke-width="0.45" stroke-opacity="0.5"/>
<path d="M364.5,457.2 L363.2,458.2 L362.1,459.4 L362.0,463.6 L364.2,467.6 L363.4,471.9 L367.3,470.7 L371.2,472.4 L375.1,472.0 L374.2,467.9 L373.5,463.7 L374.0,459.4 L371.3,457.6 L368.2,456.8 L365.2,455.8Z" fill="#ebbcd2" stroke="#fff" stroke-width="0.45" stroke-opacity="0.5"/>
<path d="M338.7,466.1 L334.1,464.6 L329.7,466.2 L331.8,470.2 L332.4,474.5 L333.9,474.8 L337.9,476.8 L337.9,476.8 L339.0,476.3 L344.2,472.9 L350.0,470.8 L349.4,470.6 L348.8,470.3 L348.4,469.8 L346.7,468.2 L344.6,467.0 L343.1,465.1Z" fill="#edc4d7" stroke="#fff" stroke-width="0.45" stroke-opacity="0.5"/>
<path d="M390.3,410.6 L390.0,410.2 L389.7,410.0 L389.4,411.4 L388.7,412.6 L388.0,413.9 L388.5,414.2 L388.9,414.6 L389.3,415.0 L390.3,414.6 L391.4,414.2 L392.4,413.7 L392.6,413.5 L392.6,413.2 L392.6,412.9 L392.0,412.1 L391.5,411.3 L390.7,410.7Z" fill="#f0cfdf" stroke="#fff" stroke-width="0.45" stroke-opacity="0.5"/>
<path d="M393.4,395.1 L393.0,393.3 L394.0,392.0 L395.1,391.2 L395.3,389.7 L396.3,388.8 L394.7,388.4 L393.1,388.3 L391.6,387.8 L390.7,386.9 L389.5,386.6 L388.4,385.9 L388.7,389.0 L387.0,391.8 L387.5,394.8 L387.4,394.9 L387.3,395.1 L387.2,395.2 L387.4,395.3 L387.7,395.4 L387.9,395.6 L389.4,396.2 L391.1,395.7 L392.5,396.4Z" fill="#eec7d9" stroke="#fff" stroke-width="0.45" stroke-opacity="0.5"/>
<path d="M381.9,398.6 L381.4,399.4 L380.8,400.2 L381.2,401.0 L381.1,401.9 L381.0,402.8 L381.8,403.1 L382.7,403.0 L383.5,403.2 L383.7,402.9 L383.9,402.6 L384.1,402.4 L384.3,401.4 L384.0,400.5 L383.9,399.6 L383.4,399.2 L383.2,398.5 L382.7,398.1Z" fill="#f0cddd" stroke="#fff" stroke-width="0.45" stroke-opacity="0.5"/>
<path d="M371.8,425.1 L371.0,424.2 L369.9,423.7 L368.1,424.8 L366.3,426.0 L364.2,426.5 L363.5,429.0 L361.6,430.8 L360.3,432.9 L359.5,433.4 L358.5,433.3 L357.7,433.8 L359.6,435.7 L362.2,436.3 L364.2,438.0 L367.9,437.1 L371.7,437.8 L375.5,437.3 L373.4,434.4 L374.3,430.7 L372.6,427.7 L372.7,427.2 L372.7,426.6 L372.6,426.0Z" fill="#e7b0c9" stroke="#fff" stroke-width="0.45" stroke-opacity="0.5"/>
<path d="M371.3,406.5 L371.9,408.0 L371.9,409.5 L372.0,409.8 L372.1,410.1 L372.3,410.4 L373.5,409.6 L375.1,409.6 L376.3,408.7 L376.0,407.7 L376.6,406.6 L376.4,405.5 L376.3,405.3 L376.1,405.2 L375.9,405.0 L374.3,404.5 L372.8,405.3 L371.2,404.9Z" fill="#f0cddd" stroke="#fff" stroke-width="0.45" stroke-opacity="0.5"/>
<path d="M391.0,405.5 L391.2,405.1 L391.1,404.7 L390.7,403.9 L390.2,403.3 L389.5,402.8 L389.1,402.7 L388.6,402.8 L388.2,403.0 L388.4,404.0 L388.0,405.0 L387.7,405.9 L387.6,406.1 L387.5,406.2 L387.3,406.4 L388.6,406.5 L389.8,405.9 L391.1,406.0Z" fill="#f1d1e0" stroke="#fff" stroke-width="0.45" stroke-opacity="0.5"/>
<path d="M391.7,407.9 L391.8,407.6 L392.1,407.5 L391.7,407.0 L391.6,406.4 L391.1,406.0 L389.8,405.9 L388.6,406.5 L387.3,406.4 L387.1,407.4 L387.4,408.4 L387.4,409.4 L388.1,409.6 L388.9,409.9 L389.7,410.0 L390.0,410.2 L390.3,410.6 L390.7,410.7 L390.8,409.8 L391.4,409.0 L391.6,408.1Z" fill="#f1d2e1" stroke="#fff" stroke-width="0.45" stroke-opacity="0.5"/>
<path d="M341.7,458.5 L343.2,461.8 L343.1,465.1 L344.6,467.0 L346.7,468.2 L348.4,469.8 L351.7,466.4 L351.4,460.9 L355.0,457.6 L354.0,456.0 L351.9,455.6 L350.8,453.9 L348.0,454.0 L345.2,454.3 L342.5,455.1Z" fill="#eabbd1" stroke="#fff" stroke-width="0.45" stroke-opacity="0.5"/>
<path d="M392.8,419.5 L393.0,418.9 L393.0,418.4 L391.4,419.5 L389.6,420.4 L388.2,421.7 L387.8,421.6 L387.4,421.5 L387.1,421.4 L386.2,423.5 L386.1,425.8 L385.2,427.9 L386.4,428.4 L387.3,429.2 L388.4,429.8 L390.1,429.8 L391.7,429.0 L393.3,428.4 L393.9,425.6 L394.1,422.8 L393.0,420.1Z" fill="#de94b4" stroke="#fff" stroke-width="0.45" stroke-opacity="0.5"/>
<path d="M409.7,410.5 L409.4,413.1 L409.7,415.5 L409.7,416.4 L409.1,417.2 L409.0,418.1 L414.0,417.6 L419.1,417.2 L423.7,414.8 L423.6,414.3 L423.6,413.8 L423.8,413.3 L422.7,409.7 L419.5,407.1 L419.1,403.2 L417.2,404.0 L415.2,403.9 L413.1,403.7 L411.3,404.7 L409.9,406.1 L409.0,408.1Z" fill="#db8daf" stroke="#fff" stroke-width="0.45" stroke-opacity="0.5"/>
<path d="M381.7,415.6 L381.9,415.2 L382.1,414.7 L380.9,413.7 L379.5,413.1 L378.3,412.3 L378.3,412.4 L378.4,412.4 L378.4,412.6 L378.5,413.8 L378.0,414.9 L377.6,416.0 L378.8,416.6 L380.2,416.6 L381.4,416.9 L381.4,416.5 L381.4,416.2 L381.3,415.9Z" fill="#f2d4e2" stroke="#fff" stroke-width="0.45" stroke-opacity="0.5"/>
<path d="M324.3,424.2 L326.8,426.8 L330.1,428.2 L332.4,427.7 L334.4,426.4 L336.6,426.0 L335.3,423.0 L336.8,419.6 L335.5,416.6 L329.7,415.0 L328.9,418.0 L321.9,422.0 L321.4,422.1Z" fill="#edc3d6" stroke="#fff" stroke-width="0.45" stroke-opacity="0.5"/>
<path d="M393.0,383.4 L391.6,387.8 L393.1,388.3 L394.7,388.4 L396.3,388.8 L397.8,389.8 L399.7,389.8 L401.1,390.9 L403.0,388.4 L403.9,387.3 L400.2,385.4 L397.1,383.6 L392.8,382.0Z" fill="#e9b6ce" stroke="#fff" stroke-width="0.45" stroke-opacity="0.5"/>
<path d="M391.3,400.7 L391.4,400.7 L391.4,400.7 L392.1,399.6 L392.4,398.4 L393.2,397.3 L393.0,397.0 L392.8,396.7 L392.5,396.4 L391.1,395.7 L389.4,396.2 L387.9,395.6 L388.4,396.7 L388.4,398.0 L388.9,399.2 L389.7,399.7 L390.5,400.2 L391.3,400.8Z" fill="#f1d0e0" stroke="#fff" stroke-width="0.45" stroke-opacity="0.5"/>
<path d="M348.1,420.4 L349.0,423.8 L347.8,427.0 L352.2,428.4 L356.7,429.8 L360.3,432.9 L361.6,430.8 L363.5,429.0 L364.2,426.5 L361.1,423.6 L360.5,419.3 L358.0,416.1 L355.1,416.9 L352.1,416.7 L349.2,417.3Z" fill="#e6aec8" stroke="#fff" stroke-width="0.45" stroke-opacity="0.5"/>
<path d="M392.6,413.2 L392.6,413.5 L392.4,413.7 L392.5,415.3 L393.0,416.7 L393.5,418.2 L393.4,418.3 L393.2,418.4 L393.0,418.4 L393.0,418.9 L392.8,419.5 L393.0,420.1 L394.9,419.6 L396.0,418.0 L397.6,417.0 L398.0,417.1 L398.3,417.0 L398.7,417.0 L396.8,415.9 L395.2,414.5 L394.3,412.5 L393.8,412.6 L393.2,412.7 L392.6,412.9Z" fill="#eec7d9" stroke="#fff" stroke-width="0.45" stroke-opacity="0.5"/>
<path d="M414.6,460.4 L415.1,461.2 L415.1,462.1 L415.2,463.1 L415.8,463.9 L416.2,464.8 L419.5,466.2 L423.1,464.7 L426.3,466.0 L429.4,465.5 L432.4,464.9 L435.0,463.0 L432.8,460.4 L430.3,458.1 L429.1,454.8 L423.7,454.8 L419.7,459.1 L414.4,459.5Z" fill="#ebbfd3" stroke="#fff" stroke-width="0.45" stroke-opacity="0.5"/>
<path d="M378.9,395.9 L378.4,397.9 L376.8,398.9 L378.2,399.2 L379.5,399.7 L380.8,400.2 L381.4,399.4 L381.9,398.6 L382.7,398.1 L382.1,397.1 L381.8,396.1 L381.6,395.0 L381.2,395.0 L380.8,395.0 L380.4,394.8Z" fill="#f1d1e0" stroke="#fff" stroke-width="0.45" stroke-opacity="0.5"/>
<path d="M407.6,336.5 L399.6,330.8 L390.3,325.0 L390.3,325.0 L391.6,329.4 L392.1,334.2 L395.0,338.2 L397.8,339.0 L399.1,342.0 L401.8,342.9Z" fill="#edc4d7" stroke="#fff" stroke-width="0.45" stroke-opacity="0.5"/>
<path d="M347.7,439.8 L345.6,437.5 L344.6,434.8 L339.2,435.6 L334.6,438.1 L329.8,440.4 L332.0,443.4 L332.9,446.9 L334.0,450.3 L335.3,451.1 L336.6,451.6 L338.0,451.8 L340.6,447.9 L344.2,445.0 L348.3,442.7Z" fill="#e7b1ca" stroke="#fff" stroke-width="0.45" stroke-opacity="0.5"/>
<path d="M387.3,413.9 L386.7,414.3 L386.0,414.2 L386.0,415.2 L385.5,416.0 L385.4,416.9 L386.4,416.9 L387.2,417.3 L388.2,417.3 L388.4,416.9 L388.9,416.7 L389.3,416.3 L389.4,415.9 L389.4,415.5 L389.3,415.0 L388.9,414.6 L388.5,414.2 L388.0,413.9Z" fill="#eec9db" stroke="#fff" stroke-width="0.45" stroke-opacity="0.5"/>
<path d="M347.3,395.9 L348.2,395.3 L349.1,394.8 L349.6,393.8 L349.6,391.4 L349.0,389.0 L349.4,386.6 L336.9,385.5 L336.4,386.0 L336.9,388.9 L338.7,393.5 L339.2,395.1Z" fill="#e4a6c2" stroke="#fff" stroke-width="0.45" stroke-opacity="0.5"/>
<path d="M385.0,411.2 L385.4,410.3 L385.9,409.4 L385.0,408.7 L384.0,408.1 L383.0,407.6 L382.3,408.2 L381.9,409.0 L381.3,409.7 L381.4,410.1 L381.4,410.4 L381.3,410.8 L382.2,411.1 L382.7,412.0 L383.6,412.3 L383.9,412.2 L384.1,412.1 L384.3,412.0Z" fill="#eec8da" stroke="#fff" stroke-width="0.45" stroke-opacity="0.5"/>
<path d="M382.4,413.8 L383.0,413.0 L383.6,412.3 L382.7,412.0 L382.2,411.1 L381.3,410.8 L380.7,411.5 L379.6,411.6 L378.9,412.3 L378.7,412.3 L378.5,412.2 L378.3,412.3 L379.5,413.1 L380.9,413.7 L382.1,414.7Z" fill="#f0cfdf" stroke="#fff" stroke-width="0.45" stroke-opacity="0.5"/>
<path d="M377.9,408.4 L377.1,408.5 L376.4,408.9 L377.2,410.1 L377.8,411.4 L378.9,412.3 L379.6,411.6 L380.7,411.5 L381.3,410.8 L381.4,410.4 L381.4,410.1 L381.3,409.7 L380.3,409.3 L379.3,408.9 L378.5,408.0Z" fill="#f1d1e0" stroke="#fff" stroke-width="0.45" stroke-opacity="0.5"/>
<path d="M380.8,395.0 L381.2,395.0 L381.6,395.0 L381.9,394.8 L382.0,394.5 L382.2,394.3 L381.6,391.2 L381.5,388.0 L380.7,385.0 L379.5,384.6 L378.2,384.5 L376.9,384.6 L375.2,386.4 L373.1,387.5 L370.9,388.5 L373.3,391.7 L377.4,392.4 L380.4,394.8Z" fill="#ecc2d6" stroke="#fff" stroke-width="0.45" stroke-opacity="0.5"/>
<path d="M395.5,404.4 L396.2,404.6 L396.9,404.4 L397.7,403.3 L398.0,402.0 L398.6,400.9 L398.4,400.4 L397.9,400.1 L397.8,399.6 L398.1,399.2 L398.4,399.0 L398.6,398.6 L396.8,399.7 L394.8,400.5 L393.3,402.0 L393.5,402.4 L393.6,402.8 L393.7,403.3 L394.0,403.8 L394.4,404.1 L394.8,404.4Z" fill="#eec8da" stroke="#fff" stroke-width="0.45" stroke-opacity="0.5"/>
<path d="M381.8,396.1 L382.1,397.1 L382.7,398.1 L383.2,398.5 L383.4,399.2 L383.9,399.6 L384.4,399.2 L385.0,398.9 L385.4,398.3 L385.9,397.3 L386.6,396.2 L387.2,395.2 L387.3,395.1 L387.4,394.9 L387.5,394.8 L385.8,394.4 L383.9,394.9 L382.2,394.3 L382.0,394.5 L381.9,394.8 L381.6,395.0Z" fill="#efcbdc" stroke="#fff" stroke-width="0.45" stroke-opacity="0.5"/>
<path d="M388.9,409.9 L388.1,409.6 L387.4,409.4 L386.9,409.4 L386.4,409.4 L385.9,409.4 L385.4,410.3 L385.0,411.2 L384.3,412.0 L385.1,412.5 L385.2,413.6 L386.0,414.2 L386.7,414.3 L387.3,413.9 L388.0,413.9 L388.7,412.6 L389.4,411.4 L389.7,410.0Z" fill="#f0cede" stroke="#fff" stroke-width="0.45" stroke-opacity="0.5"/>
<path d="M383.7,403.8 L383.4,404.6 L383.6,405.2 L385.1,405.1 L386.4,405.3 L387.7,405.9 L388.0,405.0 L388.4,404.0 L388.2,403.0 L387.9,402.7 L387.6,402.4 L387.3,402.0 L386.2,401.8 L385.2,402.3 L384.1,402.4 L383.9,402.6 L383.7,402.9 L383.5,403.2Z" fill="#f0cede" stroke="#fff" stroke-width="0.45" stroke-opacity="0.5"/>
<path d="M443.2,428.0 L443.1,427.7 L437.7,418.7 L436.3,416.7 L436.3,416.7 L432.9,421.5 L433.2,424.1 L433.9,426.7 L435.3,429.1Z" fill="#d882a7" stroke="#fff" stroke-width="0.45" stroke-opacity="0.5"/>
<path d="M349.0,389.0 L349.6,391.4 L349.6,393.8 L353.3,392.3 L356.2,389.3 L360.2,388.5 L361.6,385.4 L361.1,382.1 L360.9,378.8 L358.8,377.1 L356.3,376.3 L353.6,376.2 L352.9,379.9 L350.1,382.8 L349.4,386.6Z" fill="#e5aac4" stroke="#fff" stroke-width="0.45" stroke-opacity="0.5"/>
<path d="M393.2,418.4 L393.4,418.3 L393.5,418.2 L392.3,417.1 L390.5,417.3 L389.3,416.3 L388.9,416.7 L388.4,416.9 L388.2,417.3 L388.5,418.8 L388.1,420.3 L388.2,421.7 L389.6,420.4 L391.4,419.5 L393.0,418.4Z" fill="#f0cddd" stroke="#fff" stroke-width="0.45" stroke-opacity="0.5"/>
<path d="M381.4,416.2 L381.4,416.5 L381.4,416.9 L381.5,418.3 L380.4,419.5 L380.6,421.0 L382.1,420.6 L383.2,419.6 L384.6,418.9 L384.5,418.2 L384.6,417.5 L384.4,416.9 L383.3,416.6 L382.3,416.2 L381.3,415.9Z" fill="#eec7d9" stroke="#fff" stroke-width="0.45" stroke-opacity="0.5"/>
<path d="M396.9,410.6 L398.5,410.6 L400.0,411.5 L400.7,410.4 L401.2,409.2 L402.0,408.2 L401.8,408.0 L401.6,407.8 L401.4,407.5 L400.4,407.1 L399.3,407.5 L398.2,407.4 L397.6,407.4 L397.0,407.5 L396.5,407.4 L396.4,408.5 L395.6,409.3 L395.3,410.3Z" fill="#eec8da" stroke="#fff" stroke-width="0.45" stroke-opacity="0.5"/>
<path d="M368.8,410.1 L365.6,411.0 L362.3,410.6 L364.5,413.6 L367.5,415.4 L370.7,417.1 L371.2,416.0 L372.2,415.2 L372.5,414.0 L372.9,413.5 L373.5,413.1 L374.0,412.7 L373.2,412.1 L372.6,411.4 L372.3,410.4 L372.1,410.1 L372.0,409.8 L371.9,409.5Z" fill="#eabbd1" stroke="#fff" stroke-width="0.45" stroke-opacity="0.5"/>
<path d="M386.4,409.4 L386.9,409.4 L387.4,409.4 L387.4,408.4 L387.1,407.4 L387.3,406.4 L387.5,406.2 L387.6,406.1 L387.7,405.9 L386.4,405.3 L385.1,405.1 L383.6,405.2 L383.6,405.9 L383.2,406.4 L383.2,407.0 L383.2,407.2 L383.0,407.4 L383.0,407.6 L384.0,408.1 L385.0,408.7 L385.9,409.4Z" fill="#f2d3e2" stroke="#fff" stroke-width="0.45" stroke-opacity="0.5"/>
<path d="M393.6,402.8 L393.5,402.4 L393.3,402.0 L392.7,401.6 L392.0,401.2 L391.4,400.7 L391.4,400.7 L391.3,400.7 L391.3,400.8 L390.5,401.3 L389.9,401.9 L389.5,402.8 L390.2,403.3 L390.7,403.9 L391.1,404.7 L391.9,404.1 L392.9,403.8 L393.7,403.3Z" fill="#f0cddd" stroke="#fff" stroke-width="0.45" stroke-opacity="0.5"/>
<path d="M441.2,440.8 L433.1,439.2 L432.3,442.2 L434.0,445.1 L433.1,448.0 L435.8,448.6 L438.5,448.9 L441.2,449.5 L446.2,445.6 L450.7,444.3 L448.5,438.9Z" fill="#dd90b2" stroke="#fff" stroke-width="0.45" stroke-opacity="0.5"/>
<path d="M437.0,359.2 L439.7,359.2 L442.3,359.7 L451.6,356.1 L451.1,355.4 L445.1,352.4 L438.0,350.0 L437.6,349.9 L434.4,358.2Z" fill="#ecc2d6" stroke="#fff" stroke-width="0.45" stroke-opacity="0.5"/>
<path d="M376.6,406.6 L376.0,407.7 L376.3,408.7 L376.4,408.8 L376.4,408.8 L376.4,408.9 L377.1,408.5 L377.9,408.4 L378.5,408.0 L379.0,407.3 L379.4,406.6 L379.5,405.8 L379.5,405.4 L379.3,405.2 L379.3,404.9 L378.4,405.3 L377.3,405.1 L376.4,405.5Z" fill="#f1d1e0" stroke="#fff" stroke-width="0.45" stroke-opacity="0.5"/>
<path d="M432.4,464.9 L429.4,465.5 L426.3,466.0 L428.2,470.1 L432.3,469.5 L441.3,468.1 L442.1,467.9 L436.5,460.8 L436.3,461.7 L435.5,462.3 L435.0,463.0Z" fill="#eabad0" stroke="#fff" stroke-width="0.45" stroke-opacity="0.5"/>
<path d="M377.1,416.7 L377.4,416.4 L377.6,416.0 L378.0,414.9 L378.5,413.8 L378.4,412.6 L377.0,413.0 L375.5,412.8 L374.0,412.7 L373.5,413.1 L372.9,413.5 L372.5,414.0 L374.0,414.7 L375.0,416.3 L376.6,416.8Z" fill="#f1d2e1" stroke="#fff" stroke-width="0.45" stroke-opacity="0.5"/>
<path d="M353.8,309.0 L352.0,310.2 L348.0,313.5 L344.8,318.0 L349.6,324.0 L353.8,326.4Z" fill="#edc6d8" stroke="#fff" stroke-width="0.45" stroke-opacity="0.5"/>
<path d="M396.9,397.7 L395.0,397.8 L393.2,397.3 L392.4,398.4 L392.1,399.6 L391.4,400.7 L392.0,401.2 L392.7,401.6 L393.3,402.0 L394.8,400.5 L396.8,399.7 L398.6,398.6Z" fill="#eec7d9" stroke="#fff" stroke-width="0.45" stroke-opacity="0.5"/>
<path d="M385.2,402.3 L386.2,401.8 L387.3,402.0 L387.2,401.6 L387.3,401.2 L387.3,400.8 L387.0,399.8 L386.2,399.0 L385.4,398.3 L385.0,398.9 L384.4,399.2 L383.9,399.6 L384.0,400.5 L384.3,401.4 L384.1,402.4Z" fill="#efcddd" stroke="#fff" stroke-width="0.45" stroke-opacity="0.5"/>
<path d="M392.8,407.3 L393.4,407.1 L394.1,406.8 L394.2,405.9 L394.4,405.1 L394.8,404.4 L394.4,404.1 L394.0,403.8 L393.7,403.3 L392.9,403.8 L391.9,404.1 L391.1,404.7 L391.2,405.1 L391.0,405.5 L391.1,406.0 L391.6,406.4 L391.7,407.0 L392.1,407.5Z" fill="#eec8da" stroke="#fff" stroke-width="0.45" stroke-opacity="0.5"/>
<path d="M352.8,444.0 L353.1,447.3 L355.5,449.1 L357.9,447.3 L360.7,446.5 L363.6,446.0 L363.1,443.3 L364.6,440.7 L364.2,438.0 L362.2,436.3 L359.6,435.7 L357.7,433.8 L355.0,436.4 L352.3,438.9 L350.5,442.2Z" fill="#e8b5cc" stroke="#fff" stroke-width="0.45" stroke-opacity="0.5"/>
<path d="M401.6,407.8 L401.8,408.0 L402.0,408.2 L404.3,407.6 L406.7,408.7 L409.0,408.1 L409.9,406.1 L411.3,404.7 L413.1,403.7 L411.9,402.6 L410.4,401.7 L408.8,401.0 L406.7,401.4 L404.6,401.9 L402.6,403.0 L402.5,404.6 L401.7,405.9 L401.4,407.5Z" fill="#df97b7" stroke="#fff" stroke-width="0.45" stroke-opacity="0.5"/>
<path d="M402.3,394.9 L401.9,392.9 L401.1,390.9 L399.7,389.8 L397.8,389.8 L396.3,388.8 L395.3,389.7 L395.1,391.2 L394.0,392.0 L395.8,394.5 L397.0,397.2 L398.1,400.0 L400.0,399.5 L401.1,398.0 L402.7,397.0Z" fill="#ebbdd3" stroke="#fff" stroke-width="0.45" stroke-opacity="0.5"/>
<path d="M392.6,409.0 L393.7,409.7 L395.1,409.9 L395.1,410.1 L395.2,410.2 L395.3,410.3 L395.6,409.3 L396.4,408.5 L396.5,407.4 L395.7,407.3 L394.9,407.0 L394.1,406.8 L393.4,407.1 L392.8,407.3 L392.1,407.5 L391.8,407.6 L391.7,407.9 L391.6,408.1Z" fill="#f0cede" stroke="#fff" stroke-width="0.45" stroke-opacity="0.5"/>
<path d="M387.4,421.5 L387.8,421.6 L388.2,421.7 L388.1,420.3 L388.5,418.8 L388.2,417.3 L387.2,417.3 L386.4,416.9 L385.4,416.9 L385.1,416.8 L384.7,416.9 L384.4,416.9 L384.6,417.5 L384.5,418.2 L384.6,418.9 L385.5,419.6 L386.3,420.5 L387.1,421.4Z" fill="#f0cede" stroke="#fff" stroke-width="0.45" stroke-opacity="0.5"/>
<path d="M388.6,402.8 L389.1,402.7 L389.5,402.8 L389.9,401.9 L390.5,401.3 L391.3,400.8 L390.5,400.2 L389.7,399.7 L388.9,399.2 L388.4,399.8 L387.7,400.2 L387.3,400.8 L387.3,401.2 L387.2,401.6 L387.3,402.0 L387.6,402.4 L387.9,402.7 L388.2,403.0Z" fill="#f2d3e2" stroke="#fff" stroke-width="0.45" stroke-opacity="0.5"/>
<path d="M385.3,429.6 L385.7,431.5 L386.3,434.0 L387.4,436.3 L387.8,438.8 L388.4,442.3 L390.0,445.4 L393.0,445.5 L395.9,445.1 L398.8,444.6 L398.8,441.7 L398.5,438.8 L398.7,435.8 L398.8,432.9 L398.8,430.0 L397.6,428.8 L397.3,427.1 L394.4,426.9 L391.5,427.9 L388.6,427.3 L385.7,427.8Z" fill="#822e54" stroke="#fff" stroke-width="0.45" stroke-opacity="0.5"/>
<path d="M398.5,434.8 L398.5,438.1 L398.5,441.3 L398.8,444.6 L401.5,444.5 L404.1,444.5 L406.8,444.6 L406.6,441.3 L407.0,438.1 L406.9,434.8 L406.8,431.5 L404.1,431.2 L401.5,432.0 L398.8,431.5Z" fill="#9d3c66" stroke="#fff" stroke-width="0.45" stroke-opacity="0.5"/>
<path d="M399.1,428.2 L398.8,430.8 L402.0,430.4 L405.3,430.8 L408.5,430.9 L411.7,430.5 L414.9,430.0 L413.6,427.6 L413.4,424.9 L410.5,425.6 L407.5,424.8 L404.6,425.0 L401.7,425.3 L398.8,425.7Z" fill="#a8426e" stroke="#fff" stroke-width="0.45" stroke-opacity="0.5"/>
<path d="M412.0,417.0 L411.2,419.8 L412.6,422.6 L413.4,425.7 L414.6,428.7 L416.3,431.5 L419.0,429.5 L422.2,428.6 L422.5,425.2 L423.1,421.8 L423.6,418.4 L423.5,415.6 L422.2,413.2 L418.8,413.6 L415.3,413.2 L411.9,414.0Z" fill="#92365f" stroke="#fff" stroke-width="0.45" stroke-opacity="0.5"/>
<path d="M430.4,409.9 L428.0,411.0 L425.4,412.4 L422.4,412.8 L423.3,415.1 L423.2,417.6 L423.8,420.2 L423.9,422.9 L424.0,425.6 L425.3,428.8 L426.4,432.0 L429.7,432.8 L432.8,434.4 L436.1,435.6 L439.2,437.0 L441.7,438.0 L443.3,440.2 L445.6,441.5 L448.1,442.0 L449.6,441.7 L447.6,436.7 L443.1,427.7 L437.7,418.7 L431.6,410.0Z" fill="#b4517b" stroke="#fff" stroke-width="0.45" stroke-opacity="0.5"/>
<path d="M419.6,436.4 L419.1,439.0 L419.2,441.7 L421.9,443.4 L425.2,443.8 L428.0,445.4 L431.3,445.7 L434.6,446.1 L434.2,443.4 L432.9,440.9 L432.3,438.3 L430.9,435.9 L428.4,434.3 L426.5,432.2 L423.4,433.4 L420.0,433.7Z" fill="#822e54" stroke="#fff" stroke-width="0.45" stroke-opacity="0.5"/>
<path d="M385.6,422.9 L385.0,425.4 L385.7,427.8 L388.4,427.1 L391.1,426.9 L393.9,427.2 L396.6,427.1 L397.7,426.4 L398.8,425.7 L397.9,423.6 L397.3,421.3 L396.0,420.1 L394.4,419.1 L391.3,419.9 L388.0,419.7 L384.9,420.5Z" fill="#b8557f" stroke="#fff" stroke-width="0.45" stroke-opacity="0.5"/>
<path d="M401.1,412.8 L401.5,415.9 L401.7,419.1 L404.2,418.8 L406.6,419.6 L409.0,419.8 L409.9,416.9 L410.5,414.0 L409.8,411.3 L408.3,408.9 L405.0,409.1 L401.7,409.6Z" fill="#c2618b" stroke="#fff" stroke-width="0.45" stroke-opacity="0.5"/>
<path d="M394.0,418.0 L394.4,420.5 L397.1,420.2 L399.7,419.6 L402.4,419.8 L402.1,417.2 L401.7,414.7 L399.0,414.5 L396.4,415.6 L393.7,415.4Z" fill="#cb6c94" stroke="#fff" stroke-width="0.45" stroke-opacity="0.5"/>
<path d="M361.3,434.6 L363.1,436.5 L363.8,438.8 L366.6,437.7 L369.6,437.9 L372.5,437.3 L371.0,434.4 L369.6,431.5 L366.6,431.2 L363.8,432.3 L360.8,432.2Z" fill="#c2618b" stroke="#fff" stroke-width="0.45" stroke-opacity="0.5"/>
<path d="M371.5,432.5 L372.6,434.8 L372.5,437.3 L374.3,438.4 L375.4,440.3 L377.7,439.7 L379.8,438.8 L379.3,436.2 L378.1,433.8 L377.7,431.1 L376.9,428.6 L373.9,428.9 L371.1,430.0Z" fill="#cb6c94" stroke="#fff" stroke-width="0.45" stroke-opacity="0.5"/>
<path d="M380.6,447.5 L381.4,450.5 L381.3,453.6 L384.2,453.1 L387.1,453.4 L390.0,453.6 L390.0,450.4 L390.5,447.1 L390.0,443.9 L386.6,443.9 L383.2,444.8 L379.8,444.6Z" fill="#d4769e" stroke="#fff" stroke-width="0.45" stroke-opacity="0.5"/>
<path d="M340.7,396.3 L341.7,399.0 L343.2,401.3 L344.2,402.7 L345.6,403.7 L348.3,403.7 L351.0,403.1 L353.2,403.0 L355.1,401.9 L355.5,398.9 L354.9,395.9 L355.7,392.9 L354.0,391.9 L352.8,390.5 L349.8,391.0 L346.8,391.1 L344.3,392.3 L341.7,393.4 L339.0,394.1Z" fill="#b4517b" stroke="#fff" stroke-width="0.45" stroke-opacity="0.5"/>
<path d="M348.1,384.6 L348.6,386.3 L349.9,388.3 L351.6,389.9 L353.6,390.7 L355.7,390.5 L356.6,388.5 L356.9,386.3 L356.8,383.3 L357.5,380.4 L355.8,379.7 L354.0,379.2 L351.0,380.6 L348.6,382.8Z" fill="#c6658f" stroke="#fff" stroke-width="0.45" stroke-opacity="0.5"/>
<path d="M356.7,383.8 L356.7,387.2 L355.7,390.5 L355.9,391.7 L357.0,392.3 L359.7,392.6 L362.2,393.8 L364.7,394.7 L365.6,392.7 L367.1,391.1 L366.7,388.1 L367.1,385.1 L366.2,382.6 L364.7,380.4 L362.1,380.0 L359.6,380.8 L357.0,380.4Z" fill="#d882a7" stroke="#fff" stroke-width="0.45" stroke-opacity="0.5"/>
<path d="M368.2,387.2 L367.7,389.3 L369.2,390.8 L370.7,392.3 L373.5,391.8 L376.4,392.0 L379.1,391.1 L379.2,389.4 L380.3,388.1 L378.6,386.2 L377.3,384.0 L374.3,384.8 L371.3,384.5 L368.3,385.1Z" fill="#bf5d87" stroke="#fff" stroke-width="0.45" stroke-opacity="0.5"/>
<path d="M368.2,395.0 L368.3,397.1 L370.1,398.3 L371.9,399.5 L375.0,399.6 L377.9,400.7 L379.0,398.4 L379.7,395.9 L379.0,393.8 L378.5,391.7 L375.0,391.5 L371.7,392.2 L368.3,392.9Z" fill="#c6658f" stroke="#fff" stroke-width="0.45" stroke-opacity="0.5"/>
<path d="M356.9,395.9 L356.3,398.3 L357.6,399.7 L358.7,401.3 L361.2,401.2 L363.5,400.5 L365.9,400.1 L366.5,398.4 L367.7,397.1 L366.6,395.2 L366.5,392.9 L363.3,393.1 L360.2,393.5 L357.0,393.5Z" fill="#c96a92" stroke="#fff" stroke-width="0.45" stroke-opacity="0.5"/>
<path d="M358.2,403.4 L358.7,405.5 L360.7,406.9 L362.9,407.9 L365.6,407.7 L368.3,407.3 L369.0,405.5 L369.5,403.7 L367.9,401.9 L365.9,400.7 L363.3,401.5 L360.7,401.4 L358.1,401.3Z" fill="#c6658f" stroke="#fff" stroke-width="0.45" stroke-opacity="0.5"/>
<path d="M365.9,375.6 L365.3,378.0 L365.3,380.4 L366.4,383.0 L368.3,385.1 L370.8,384.6 L373.2,384.0 L375.5,382.8 L375.2,380.3 L374.3,378.0 L373.1,375.6 L371.9,373.2 L368.9,373.2 L365.9,373.2Z" fill="#d67ba2" stroke="#fff" stroke-width="0.45" stroke-opacity="0.5"/>
<path d="M378.5,383.0 L379.1,386.3 L381.0,387.0 L382.7,388.1 L385.1,386.6 L387.5,385.1 L386.2,382.2 L385.1,379.2 L382.5,380.0 L379.9,379.7 L377.3,379.8Z" fill="#d67ba2" stroke="#fff" stroke-width="0.45" stroke-opacity="0.5"/>
</g>
<clipPath id="mapR"><rect x="280" y="302.3" width="197.4" height="197"/></clipPath>
<g clip-path="url(#mapR)" transform="translate(206,0)">
<path d="M377.0,444.2 L377.1,443.0 L377.2,441.9 L376.1,440.5 L375.7,438.9 L375.5,437.3 L371.7,437.8 L367.9,437.1 L364.2,438.0 L364.6,440.7 L363.1,443.3 L363.6,446.0 L364.7,447.7 L364.5,449.7 L365.7,451.3 L368.9,448.5 L372.2,446.1 L376.5,445.3Z" fill="#c7f0dd" stroke="#fff" stroke-width="0.45" stroke-opacity="0.5"/>
<path d="M390.3,325.0 L390.0,324.8 L383.1,322.2 L379.5,318.0 L375.9,313.2 L370.3,309.7 L367.4,321.8 L371.7,324.0 L376.4,325.4 L380.3,328.3 L384.0,328.3 L387.0,326.4 L390.3,325.0Z" fill="#d3f5e6" stroke="#fff" stroke-width="0.45" stroke-opacity="0.5"/>
<path d="M335.4,403.6 L343.6,406.9 L346.1,404.3 L348.7,401.9 L352.1,400.6 L350.6,398.9 L348.6,397.7 L347.3,395.9 L339.2,395.1 L339.3,395.3 L335.2,398.8 L332.8,399.4 L331.7,401.1 L331.2,402.1Z" fill="#a6e3c6" stroke="#fff" stroke-width="0.45" stroke-opacity="0.5"/>
<path d="M398.0,456.6 L398.8,458.9 L399.2,461.4 L399.1,463.3 L400.0,465.0 L400.6,466.8 L405.3,464.9 L409.8,462.2 L415.1,462.1 L415.1,461.2 L414.6,460.4 L414.4,459.5 L412.2,456.7 L411.4,453.5 L410.9,450.2 L408.3,449.8 L405.9,448.5 L403.2,448.8 L400.7,450.2 L398.9,452.5 L396.8,454.4Z" fill="#c3efdb" stroke="#fff" stroke-width="0.45" stroke-opacity="0.5"/>
<path d="M353.8,326.4 L357.1,328.2 L357.1,328.2 L364.2,327.2 L367.4,321.8 L370.3,309.7 L370.0,309.5 L364.0,306.0 L360.4,305.4 L356.0,307.5 L353.8,309.0Z" fill="#cff3e3" stroke="#fff" stroke-width="0.45" stroke-opacity="0.5"/>
<path d="M352.1,475.0 L350.8,473.1 L350.0,470.8 L344.2,472.9 L339.0,476.3 L337.9,476.8 L341.9,481.8 L345.6,484.3 L354.5,477.4 L354.2,477.2 L354.0,477.0 L353.9,476.7Z" fill="#c7f0de" stroke="#fff" stroke-width="0.45" stroke-opacity="0.5"/>
<path d="M335.5,416.6 L338.4,415.3 L341.8,415.5 L344.7,414.3 L343.7,411.9 L344.5,409.3 L343.6,406.9 L335.4,403.6 L331.2,402.1 L329.3,406.0 L330.9,410.0 L329.7,415.0Z" fill="#caf1e0" stroke="#fff" stroke-width="0.45" stroke-opacity="0.5"/>
<path d="M385.1,455.9 L386.9,453.7 L389.3,452.6 L388.1,448.1 L384.3,444.8 L384.0,439.9 L381.9,441.2 L379.4,441.2 L377.2,441.9 L377.1,443.0 L377.0,444.2 L376.5,445.3 L378.3,449.1 L378.9,453.3 L380.2,457.3 L381.0,457.2 L381.6,456.6 L382.3,456.3Z" fill="#c7f0de" stroke="#fff" stroke-width="0.45" stroke-opacity="0.5"/>
<path d="M411.3,395.6 L411.8,393.2 L412.1,391.8 L409.0,390.0 L403.9,387.3 L403.0,388.4 L401.1,390.9 L401.9,392.9 L402.3,394.9 L402.7,397.0 L405.2,396.9 L407.5,398.0 L410.0,397.8Z" fill="#b9ebd4" stroke="#fff" stroke-width="0.45" stroke-opacity="0.5"/>
<path d="M365.0,396.1 L364.2,394.1 L364.3,392.0 L362.8,391.0 L361.3,390.0 L360.2,388.5 L356.2,389.3 L353.3,392.3 L349.6,393.8 L349.1,394.8 L348.2,395.3 L347.3,395.9 L348.6,397.7 L350.6,398.9 L352.1,400.6 L354.0,402.3 L356.0,403.8 L358.0,405.3 L360.6,403.1 L362.0,399.8 L365.1,398.1Z" fill="#97dcba" stroke="#fff" stroke-width="0.45" stroke-opacity="0.5"/>
<path d="M348.8,470.3 L349.4,470.6 L350.0,470.8 L350.8,473.1 L352.1,475.0 L353.9,476.7 L356.6,474.1 L360.0,473.1 L363.4,471.9 L364.2,467.6 L362.0,463.6 L362.1,459.4 L359.8,458.4 L357.3,458.3 L355.0,457.6 L351.4,460.9 L351.7,466.4 L348.4,469.8Z" fill="#c3efdb" stroke="#fff" stroke-width="0.45" stroke-opacity="0.5"/>
<path d="M429.6,365.1 L430.8,361.0 L427.4,357.0 L421.7,356.4 L418.1,352.6 L417.7,352.1 L417.2,351.7 L416.5,351.5 L414.9,357.9 L415.5,363.6 L417.6,364.3 L424.8,367.3 L427.5,368.6Z" fill="#d2f5e5" stroke="#fff" stroke-width="0.45" stroke-opacity="0.5"/>
<path d="M369.3,379.1 L372.1,379.3 L374.8,380.1 L378.9,374.8 L380.2,372.1 L376.1,369.0 L371.4,365.5 L367.3,363.4 L364.8,363.9 L365.1,369.0 L366.6,378.5Z" fill="#96dbb8" stroke="#fff" stroke-width="0.45" stroke-opacity="0.5"/>
<path d="M407.9,375.1 L403.3,373.2 L400.7,373.2 L402.3,375.2 L407.4,377.8Z" fill="#c7f0de" stroke="#fff" stroke-width="0.45" stroke-opacity="0.5"/>
<path d="M373.4,473.3 L374.2,472.5 L375.1,472.0 L371.2,472.4 L367.3,470.7 L363.4,471.9 L360.0,473.1 L356.6,474.1 L353.9,476.7 L354.0,477.0 L354.2,477.2 L354.5,477.4 L357.4,481.5 L363.0,482.6 L365.5,487.1 L369.4,485.0 L372.8,482.1 L376.2,479.3 L375.1,477.4 L373.4,475.9 L372.4,473.9Z" fill="#c1eeda" stroke="#fff" stroke-width="0.45" stroke-opacity="0.5"/>
<path d="M322.2,455.9 L327.5,457.5 L329.9,455.3 L332.0,452.9 L334.0,450.3 L332.9,446.9 L332.0,443.4 L329.8,440.4 L329.6,439.5 L329.2,438.8 L329.3,437.9 L326.9,439.0 L324.3,439.2 L321.8,439.7 L320.0,442.9 L320.0,442.9 L321.0,449.9 L320.3,454.2Z" fill="#d1f4e5" stroke="#fff" stroke-width="0.45" stroke-opacity="0.5"/>
<path d="M373.1,387.5 L375.2,386.4 L376.9,384.6 L376.3,383.1 L375.1,381.9 L374.8,380.1 L372.1,379.3 L369.3,379.1 L366.6,378.5 L364.6,378.2 L362.7,378.0 L360.9,378.8 L361.1,382.1 L361.6,385.4 L360.2,388.5 L361.3,390.0 L362.8,391.0 L364.3,392.0 L366.6,391.4 L368.8,391.5 L371.0,392.2 L371.4,391.0 L371.3,389.7 L370.9,388.5Z" fill="#9fe0c0" stroke="#fff" stroke-width="0.45" stroke-opacity="0.5"/>
<path d="M397.4,405.3 L397.5,406.5 L398.2,407.4 L399.3,407.5 L400.4,407.1 L401.4,407.5 L401.7,405.9 L402.5,404.6 L402.6,403.0 L401.4,402.2 L399.8,401.8 L398.6,400.9 L398.0,402.0 L397.7,403.3 L396.9,404.4Z" fill="#cdf3e2" stroke="#fff" stroke-width="0.45" stroke-opacity="0.5"/>
<path d="M401.6,356.8 L402.7,351.9 L401.8,349.0 L401.1,346.0 L401.8,342.9 L399.1,342.0 L397.8,339.0 L395.0,338.2 L388.1,342.8 L384.6,347.0 L390.0,352.4 L396.0,355.4 L400.8,357.8Z" fill="#d2f4e5" stroke="#fff" stroke-width="0.45" stroke-opacity="0.5"/>
<path d="M411.8,393.2 L411.3,395.6 L410.0,397.8 L410.0,399.0 L409.0,399.8 L408.8,401.0 L410.4,401.7 L411.9,402.6 L413.1,403.7 L415.2,403.9 L417.2,404.0 L419.1,403.2 L419.7,399.4 L420.7,398.1 L418.0,395.4 L412.1,391.8Z" fill="#c4efdc" stroke="#fff" stroke-width="0.45" stroke-opacity="0.5"/>
<path d="M429.6,412.6 L431.7,410.1 L431.4,409.7 L425.1,402.6 L420.7,398.1 L419.7,399.4 L419.1,403.2 L419.5,407.1 L422.7,409.7 L423.8,413.3Z" fill="#b4e9d1" stroke="#fff" stroke-width="0.45" stroke-opacity="0.5"/>
<path d="M378.9,453.3 L378.3,449.1 L376.5,445.3 L372.2,446.1 L368.9,448.5 L365.7,451.3 L366.0,452.8 L365.5,454.3 L365.2,455.8 L368.2,456.8 L371.3,457.6 L374.0,459.4 L376.1,458.8 L378.0,457.8 L380.2,457.3Z" fill="#c3efdb" stroke="#fff" stroke-width="0.45" stroke-opacity="0.5"/>
<path d="M435.3,429.1 L433.3,431.1 L432.1,433.7 L430.7,436.2 L431.2,437.5 L432.2,438.3 L433.1,439.2 L441.2,440.8 L448.5,438.9 L447.6,436.7 L443.2,428.0Z" fill="#9ddfbe" stroke="#fff" stroke-width="0.45" stroke-opacity="0.5"/>
<path d="M420.3,436.3 L417.2,436.5 L415.4,438.7 L415.4,440.6 L416.7,442.2 L416.8,444.0 L420.3,446.4 L423.9,448.5 L427.4,451.0 L429.0,449.5 L431.2,449.0 L433.1,448.0 L434.0,445.1 L432.3,442.2 L433.1,439.2 L432.2,438.3 L431.2,437.5 L430.7,436.2 L427.8,436.1 L425.2,434.4 L422.2,434.3Z" fill="#afe7cd" stroke="#fff" stroke-width="0.45" stroke-opacity="0.5"/>
<path d="M320.9,425.6 L318.6,428.2 L317.4,431.4 L318.3,434.5 L319.9,437.1 L321.8,439.7 L324.3,439.2 L326.9,439.0 L329.3,437.9 L328.7,434.6 L329.0,431.3 L330.1,428.2 L326.8,426.8 L324.3,424.2 L321.4,422.1 L321.4,422.1Z" fill="#cff3e3" stroke="#fff" stroke-width="0.45" stroke-opacity="0.5"/>
<path d="M419.7,384.0 L418.9,385.4 L420.7,386.5 L424.7,389.5 L426.8,393.1 L429.3,393.1 L429.9,389.5 L428.8,385.4 L424.7,383.4 L421.4,381.2ZM432.8,390.0 L434.2,384.2 L431.4,383.9 L432.4,389.5 L432.7,390.2Z" fill="#c7f0de" stroke="#fff" stroke-width="0.45" stroke-opacity="0.5"/>
<path d="M391.9,452.8 L394.4,453.3 L396.8,454.4 L398.9,452.5 L400.7,450.2 L403.2,448.8 L401.1,445.1 L399.0,441.5 L397.3,437.6 L394.3,437.9 L391.3,436.8 L388.4,437.8 L387.2,439.1 L385.5,439.3 L384.0,439.9 L384.3,444.8 L388.1,448.1 L389.3,452.6Z" fill="#b5ead1" stroke="#fff" stroke-width="0.45" stroke-opacity="0.5"/>
<path d="M384.6,427.8 L384.9,427.8 L385.2,427.9 L386.1,425.8 L386.2,423.5 L387.1,421.4 L386.3,420.5 L385.5,419.6 L384.6,418.9 L383.2,419.6 L382.1,420.6 L380.6,421.0 L380.9,421.3 L381.0,421.8 L381.3,422.0 L382.4,423.9 L383.7,425.6 L384.3,427.7Z" fill="#ccf2e1" stroke="#fff" stroke-width="0.45" stroke-opacity="0.5"/>
<path d="M321.2,469.3 L323.9,472.8 L332.4,474.5 L331.8,470.2 L329.8,466.4Z" fill="#caf2e0" stroke="#fff" stroke-width="0.45" stroke-opacity="0.5"/>
<path d="M388.1,342.8 L395.0,338.2 L392.1,334.2 L391.6,329.4 L390.3,325.0 L387.0,326.4 L384.0,328.3 L380.3,328.3 L376.3,336.1 L373.8,339.5 L375.9,340.7 L384.3,346.7 L384.6,347.0Z" fill="#cdf3e2" stroke="#fff" stroke-width="0.45" stroke-opacity="0.5"/>
<path d="M426.3,466.0 L423.1,464.7 L419.5,466.2 L416.2,464.8 L413.8,472.8 L416.6,472.0 L428.2,470.1Z" fill="#cef3e2" stroke="#fff" stroke-width="0.45" stroke-opacity="0.5"/>
<path d="M400.6,466.8 L400.0,465.0 L399.1,463.3 L399.2,461.4 L396.5,464.6 L393.1,467.0 L389.3,468.8 L394.5,478.2 L401.3,476.2Z" fill="#c7f1de" stroke="#fff" stroke-width="0.45" stroke-opacity="0.5"/>
<path d="M442.1,467.9 L448.5,466.3 L453.8,463.6 L455.6,459.1 L455.4,458.5 L440.5,456.5 L439.1,457.9 L438.0,459.5 L436.5,460.8Z" fill="#c8f1df" stroke="#fff" stroke-width="0.45" stroke-opacity="0.5"/>
<path d="M398.3,417.0 L398.0,417.1 L397.6,417.0 L398.7,420.2 L401.0,422.5 L403.3,424.8 L404.8,423.2 L407.1,422.6 L408.6,421.0 L408.6,420.0 L408.8,419.0 L409.0,418.1 L409.1,417.2 L409.7,416.4 L409.7,415.5 L406.4,415.1 L403.1,414.7 L399.8,415.2 L399.5,415.8 L399.2,416.4 L398.7,417.0Z" fill="#9cdebe" stroke="#fff" stroke-width="0.45" stroke-opacity="0.5"/>
<path d="M399.0,441.5 L401.1,445.1 L403.2,448.8 L405.9,448.5 L408.3,449.8 L410.9,450.2 L413.4,448.6 L414.8,446.0 L416.8,444.0 L416.7,442.2 L415.4,440.6 L415.4,438.7 L411.9,437.0 L408.3,435.5 L405.1,433.3 L402.7,435.1 L400.2,436.8 L397.3,437.6Z" fill="#a1e1c2" stroke="#fff" stroke-width="0.45" stroke-opacity="0.5"/>
<path d="M370.2,421.5 L370.6,419.3 L370.7,417.1 L367.5,415.4 L364.5,413.6 L362.3,410.6 L361.5,410.0 L360.4,410.2 L359.5,409.7 L358.4,411.7 L358.2,413.9 L358.0,416.1 L360.5,419.3 L361.1,423.6 L364.2,426.5 L366.3,426.0 L368.1,424.8 L369.9,423.7Z" fill="#bfedd8" stroke="#fff" stroke-width="0.45" stroke-opacity="0.5"/>
<path d="M421.4,432.6 L421.5,433.7 L422.2,434.3 L425.2,434.4 L427.8,436.1 L430.7,436.2 L432.1,433.7 L433.3,431.1 L435.3,429.1 L433.9,426.7 L433.2,424.1 L432.9,421.5 L431.0,420.0 L428.8,419.2 L426.4,419.1 L424.4,423.4 L422.9,427.9 L420.6,432.0Z" fill="#a7e4c7" stroke="#fff" stroke-width="0.45" stroke-opacity="0.5"/>
<path d="M432.8,390.0 L432.7,390.2 L433.9,393.1 L437.0,396.2 L440.1,397.2 L442.6,394.1 L443.6,390.5 L441.1,386.5 L436.0,384.4 L434.2,384.2Z" fill="#caf2e0" stroke="#fff" stroke-width="0.45" stroke-opacity="0.5"/>
<path d="M424.4,416.3 L425.6,417.6 L426.4,419.1 L428.8,419.2 L431.0,420.0 L432.9,421.5 L436.3,416.7 L436.3,416.7 L431.7,410.1 L429.6,412.6 L423.8,413.3 L423.6,413.8 L423.6,414.3 L423.7,414.8Z" fill="#98ddba" stroke="#fff" stroke-width="0.45" stroke-opacity="0.5"/>
<path d="M344.2,445.0 L340.6,447.9 L338.0,451.8 L339.8,452.6 L341.1,453.9 L342.5,455.1 L345.2,454.3 L348.0,454.0 L350.8,453.9 L352.0,451.9 L354.4,451.1 L355.5,449.1 L353.1,447.3 L352.8,444.0 L350.5,442.2 L349.7,442.5 L349.0,442.4 L348.3,442.7Z" fill="#bfeed9" stroke="#fff" stroke-width="0.45" stroke-opacity="0.5"/>
<path d="M383.9,394.9 L385.8,394.4 L387.5,394.8 L387.0,391.8 L388.7,389.0 L388.4,385.9 L385.8,386.2 L383.3,385.1 L380.7,385.0 L381.5,388.0 L381.6,391.2 L382.2,394.3Z" fill="#aae5c9" stroke="#fff" stroke-width="0.45" stroke-opacity="0.5"/>
<path d="M353.6,376.2 L356.3,376.3 L358.8,377.1 L360.9,378.8 L362.7,378.0 L364.6,378.2 L366.6,378.5 L365.1,369.0 L364.8,363.9 L363.2,364.3 L358.5,366.1 L353.9,366.7 L351.3,368.7Z" fill="#aee7cc" stroke="#fff" stroke-width="0.45" stroke-opacity="0.5"/>
<path d="M429.6,365.1 L427.5,368.6 L430.8,370.3 L435.5,372.7 L440.3,373.3 L444.8,371.9 L444.8,371.8 L443.7,365.8 L442.3,359.7 L439.7,359.2 L437.0,359.2 L434.4,358.2 L433.5,359.4 L432.1,360.1 L430.8,361.0Z" fill="#bcedd7" stroke="#fff" stroke-width="0.45" stroke-opacity="0.5"/>
<path d="M382.5,468.9 L377.8,472.5 L372.4,473.9 L373.4,475.9 L375.1,477.4 L376.2,479.3 L381.3,483.2 L387.4,480.3 L394.5,478.2 L389.3,468.8 L389.0,469.0 L388.6,468.9 L388.3,469.1Z" fill="#cdf3e2" stroke="#fff" stroke-width="0.45" stroke-opacity="0.5"/>
<path d="M381.6,456.6 L381.0,457.2 L380.2,457.3 L378.0,457.8 L376.1,458.8 L374.0,459.4 L373.5,463.7 L374.2,467.9 L375.1,472.0 L374.2,472.5 L373.4,473.3 L372.4,473.9 L377.8,472.5 L382.5,468.9 L388.3,469.1 L386.1,464.9 L384.1,460.7 L382.3,456.3Z" fill="#c9f1df" stroke="#fff" stroke-width="0.45" stroke-opacity="0.5"/>
<path d="M334.4,426.4 L332.4,427.7 L330.1,428.2 L329.0,431.3 L328.7,434.6 L329.3,437.9 L329.2,438.8 L329.6,439.5 L329.8,440.4 L334.6,438.1 L339.2,435.6 L344.6,434.8 L345.2,432.5 L345.0,430.3 L345.1,428.0 L342.4,426.6 L339.6,426.1 L336.6,426.0Z" fill="#c9f1df" stroke="#fff" stroke-width="0.45" stroke-opacity="0.5"/>
<path d="M364.5,449.7 L364.7,447.7 L363.6,446.0 L360.7,446.5 L357.9,447.3 L355.5,449.1 L354.4,451.1 L352.0,451.9 L350.8,453.9 L351.9,455.6 L354.0,456.0 L355.0,457.6 L357.3,458.3 L359.8,458.4 L362.1,459.4 L363.2,458.2 L364.5,457.2 L365.2,455.8 L365.5,454.3 L366.0,452.8 L365.7,451.3Z" fill="#caf1df" stroke="#fff" stroke-width="0.45" stroke-opacity="0.5"/>
<path d="M418.1,352.6 L421.7,356.4 L427.4,357.0 L430.8,361.0 L432.1,360.1 L433.5,359.4 L434.4,358.2 L437.6,349.9 L429.6,347.6 L422.4,345.2 L418.5,343.5Z" fill="#c3efdb" stroke="#fff" stroke-width="0.45" stroke-opacity="0.5"/>
<path d="M378.9,374.8 L374.8,380.1 L375.1,381.9 L376.3,383.1 L376.9,384.6 L378.2,384.5 L379.5,384.6 L380.7,385.0 L383.3,385.1 L385.8,386.2 L388.4,385.9 L389.5,386.6 L390.7,386.9 L391.6,387.8 L393.0,383.4 L392.8,382.0 L392.4,381.9 L387.7,378.4 L385.4,377.2 L380.7,372.5 L380.2,372.1Z" fill="#ace6cb" stroke="#fff" stroke-width="0.45" stroke-opacity="0.5"/>
<path d="M384.1,460.7 L386.1,464.9 L388.3,469.1 L388.6,468.9 L389.0,469.0 L389.3,468.8 L393.1,467.0 L396.5,464.6 L399.2,461.4 L398.8,458.9 L398.0,456.6 L396.8,454.4 L394.4,453.3 L391.9,452.8 L389.3,452.6 L386.9,453.7 L385.1,455.9 L382.3,456.3Z" fill="#c2efdb" stroke="#fff" stroke-width="0.45" stroke-opacity="0.5"/>
<path d="M375.1,409.6 L373.5,409.6 L372.3,410.4 L372.6,411.4 L373.2,412.1 L374.0,412.7 L375.5,412.8 L377.0,413.0 L378.4,412.6 L378.4,412.4 L378.3,412.4 L378.3,412.3 L378.5,412.2 L378.7,412.3 L378.9,412.3 L377.8,411.4 L377.2,410.1 L376.4,408.9 L376.4,408.8 L376.4,408.8 L376.3,408.7Z" fill="#c2efda" stroke="#fff" stroke-width="0.45" stroke-opacity="0.5"/>
<path d="M366.5,492.4 L367.8,491.8 L372.8,487.8 L380.0,483.8 L381.3,483.2 L376.2,479.3 L372.8,482.1 L369.4,485.0 L365.5,487.1Z" fill="#c2efdb" stroke="#fff" stroke-width="0.45" stroke-opacity="0.5"/>
<path d="M380.8,406.0 L382.0,406.5 L383.2,407.0 L383.2,406.4 L383.6,405.9 L383.6,405.2 L383.4,404.6 L383.7,403.8 L383.5,403.2 L382.7,403.0 L381.8,403.1 L381.0,402.8 L380.4,402.9 L379.9,403.4 L379.4,403.6 L379.3,404.0 L379.4,404.5 L379.3,404.9 L379.3,405.2 L379.5,405.4 L379.5,405.8Z" fill="#c6f0dd" stroke="#fff" stroke-width="0.45" stroke-opacity="0.5"/>
<path d="M375.8,399.1 L376.3,399.0 L376.8,398.9 L378.4,397.9 L378.9,395.9 L380.4,394.8 L377.4,392.4 L373.3,391.7 L370.9,388.5 L371.3,389.7 L371.4,391.0 L371.0,392.2 L372.0,394.3 L372.4,396.7 L373.9,398.6 L374.3,399.0 L374.8,399.3 L375.4,399.4Z" fill="#a0e0c1" stroke="#fff" stroke-width="0.45" stroke-opacity="0.5"/>
<path d="M345.6,484.3 L347.9,485.8 L353.9,489.8 L357.9,493.8 L361.8,494.8 L366.5,492.4 L365.5,487.1 L363.0,482.6 L357.4,481.5 L354.5,477.4Z" fill="#c9f1df" stroke="#fff" stroke-width="0.45" stroke-opacity="0.5"/>
<path d="M398.4,428.3 L395.8,429.4 L393.3,428.4 L391.7,429.0 L390.1,429.8 L388.4,429.8 L387.5,432.5 L387.9,435.2 L388.4,437.8 L391.3,436.8 L394.3,437.9 L397.3,437.6 L400.2,436.8 L402.7,435.1 L405.1,433.3 L403.5,432.0 L402.3,430.4 L400.9,428.9Z" fill="#b3e9d0" stroke="#fff" stroke-width="0.45" stroke-opacity="0.5"/>
<path d="M402.2,426.0 L401.7,427.5 L400.9,428.9 L402.3,430.4 L403.5,432.0 L405.1,433.3 L408.3,435.5 L411.9,437.0 L415.4,438.7 L417.2,436.5 L420.3,436.3 L422.2,434.3 L421.5,433.7 L421.4,432.6 L420.6,432.0 L417.0,427.9 L413.1,424.1 L408.6,421.0 L407.1,422.6 L404.8,423.2 L403.3,424.8Z" fill="#abe6ca" stroke="#fff" stroke-width="0.45" stroke-opacity="0.5"/>
<path d="M349.4,386.6 L350.1,382.8 L352.9,379.9 L353.6,376.2 L351.3,368.7 L350.9,369.0 L346.9,370.8 L341.6,373.7 L341.6,378.4 L342.8,380.7 L340.4,382.4 L336.9,385.5Z" fill="#9cdebd" stroke="#fff" stroke-width="0.45" stroke-opacity="0.5"/>
<path d="M371.4,402.7 L370.9,401.9 L370.6,401.1 L368.7,400.1 L366.7,399.5 L365.1,398.1 L362.0,399.8 L360.6,403.1 L358.0,405.3 L358.5,405.6 L359.1,405.8 L359.6,406.1 L363.7,405.9 L367.6,404.4 L371.6,403.6Z" fill="#b3e9d0" stroke="#fff" stroke-width="0.45" stroke-opacity="0.5"/>
<path d="M416.2,464.8 L415.8,463.9 L415.2,463.1 L415.1,462.1 L409.8,462.2 L405.3,464.9 L400.6,466.8 L401.3,476.2 L402.0,476.0 L413.8,472.8Z" fill="#cef3e3" stroke="#fff" stroke-width="0.45" stroke-opacity="0.5"/>
<path d="M372.8,405.3 L374.3,404.5 L375.9,405.0 L375.7,403.7 L376.5,402.5 L376.7,401.3 L376.2,400.6 L375.9,400.0 L375.4,399.4 L374.8,399.3 L374.3,399.0 L373.9,398.6 L372.8,399.5 L371.9,400.6 L370.6,401.1 L370.9,401.9 L371.4,402.7 L371.6,403.6 L371.4,404.0 L371.5,404.5 L371.2,404.9Z" fill="#c4efdb" stroke="#fff" stroke-width="0.45" stroke-opacity="0.5"/>
<path d="M345.0,430.3 L345.2,432.5 L344.6,434.8 L345.6,437.5 L347.7,439.8 L348.3,442.7 L349.0,442.4 L349.7,442.5 L350.5,442.2 L352.3,438.9 L355.0,436.4 L357.7,433.8 L358.5,433.3 L359.5,433.4 L360.3,432.9 L356.7,429.8 L352.2,428.4 L347.8,427.0 L347.0,427.5 L346.1,427.9 L345.1,428.0Z" fill="#c4f0dc" stroke="#fff" stroke-width="0.45" stroke-opacity="0.5"/>
<path d="M359.1,405.8 L358.5,405.6 L358.0,405.3 L356.0,403.8 L354.0,402.3 L352.1,400.6 L348.7,401.9 L346.1,404.3 L343.6,406.9 L344.5,409.3 L343.7,411.9 L344.7,414.3 L345.9,415.8 L348.1,415.7 L349.2,417.3 L352.1,416.7 L355.1,416.9 L358.0,416.1 L358.2,413.9 L358.4,411.7 L359.5,409.7 L359.6,408.5 L359.9,407.3 L359.6,406.1Z" fill="#bdedd7" stroke="#fff" stroke-width="0.45" stroke-opacity="0.5"/>
<path d="M407.4,352.6 L412.0,353.1 L416.5,351.5 L417.2,351.7 L417.7,352.1 L418.1,352.6 L418.5,343.5 L414.0,341.6 L408.0,336.8 L407.6,336.5 L401.8,342.9 L401.1,346.0 L401.8,349.0 L402.7,351.9Z" fill="#ccf2e1" stroke="#fff" stroke-width="0.45" stroke-opacity="0.5"/>
<path d="M334.1,464.6 L338.7,466.1 L343.1,465.1 L343.2,461.8 L341.7,458.5 L342.5,455.1 L341.1,453.9 L339.8,452.6 L338.0,451.8 L336.6,451.6 L335.3,451.1 L334.0,450.3 L332.0,452.9 L329.9,455.3 L327.5,457.5 L328.7,460.4 L330.8,462.8 L331.4,465.6Z" fill="#c0eed9" stroke="#fff" stroke-width="0.45" stroke-opacity="0.5"/>
<path d="M372.4,396.7 L372.0,394.3 L371.0,392.2 L368.8,391.5 L366.6,391.4 L364.3,392.0 L364.2,394.1 L365.0,396.1 L365.1,398.1 L366.7,399.5 L368.7,400.1 L370.6,401.1 L371.9,400.6 L372.8,399.5 L373.9,398.6Z" fill="#a8e4c7" stroke="#fff" stroke-width="0.45" stroke-opacity="0.5"/>
<path d="M391.4,409.0 L390.8,409.8 L390.7,410.7 L391.5,411.3 L392.0,412.1 L392.6,412.9 L393.2,412.7 L393.8,412.6 L394.3,412.5 L394.6,411.6 L394.7,410.7 L395.1,409.9 L393.7,409.7 L392.6,409.0 L391.6,408.1Z" fill="#c9f1df" stroke="#fff" stroke-width="0.45" stroke-opacity="0.5"/>
<path d="M380.4,428.3 L376.5,427.5 L372.6,427.7 L374.3,430.7 L373.4,434.4 L375.5,437.3 L375.7,438.9 L376.1,440.5 L377.2,441.9 L379.4,441.2 L381.9,441.2 L384.0,439.9 L385.5,439.3 L387.2,439.1 L388.4,437.8 L387.9,435.2 L387.5,432.5 L388.4,429.8 L387.3,429.2 L386.4,428.4 L385.2,427.9 L384.9,427.8 L384.6,427.8 L384.3,427.7Z" fill="#bbecd6" stroke="#fff" stroke-width="0.45" stroke-opacity="0.5"/>
<path d="M309.8,429.1 L312.1,430.6 L314.8,430.8 L317.4,431.4 L318.6,428.2 L320.9,425.6 L321.4,422.1 L316.0,422.9 L310.0,424.0 L308.4,424.2Z" fill="#caf1e0" stroke="#fff" stroke-width="0.45" stroke-opacity="0.5"/>
<path d="M309.8,429.1 L308.4,424.2 L304.0,424.9 L301.0,426.9 L303.0,429.9 L305.1,432.0Z" fill="#cbf2e0" stroke="#fff" stroke-width="0.45" stroke-opacity="0.5"/>
<path d="M401.2,409.2 L400.7,410.4 L400.0,411.5 L399.9,412.7 L399.9,414.0 L399.8,415.2 L403.1,414.7 L406.4,415.1 L409.7,415.5 L409.4,413.1 L409.7,410.5 L409.0,408.1 L406.7,408.7 L404.3,407.6 L402.0,408.2Z" fill="#9ddfbf" stroke="#fff" stroke-width="0.45" stroke-opacity="0.5"/>
<path d="M419.7,459.1 L423.7,454.8 L429.1,454.8 L428.9,453.3 L428.0,452.2 L427.4,451.0 L423.9,448.5 L420.3,446.4 L416.8,444.0 L414.8,446.0 L413.4,448.6 L410.9,450.2 L411.4,453.5 L412.2,456.7 L414.4,459.5Z" fill="#c5f0dc" stroke="#fff" stroke-width="0.45" stroke-opacity="0.5"/>
<path d="M440.7,451.8 L440.9,454.2 L440.5,456.5 L455.4,458.5 L453.8,452.8 L451.2,445.6 L450.7,444.3 L446.2,445.6 L441.2,449.5Z" fill="#c0eed9" stroke="#fff" stroke-width="0.45" stroke-opacity="0.5"/>
<path d="M394.9,407.0 L395.7,407.3 L396.5,407.4 L397.0,407.5 L397.6,407.4 L398.2,407.4 L397.5,406.5 L397.4,405.3 L396.9,404.4 L396.2,404.6 L395.5,404.4 L394.8,404.4 L394.4,405.1 L394.2,405.9 L394.1,406.8Z" fill="#c9f1df" stroke="#fff" stroke-width="0.45" stroke-opacity="0.5"/>
<path d="M394.1,422.8 L393.9,425.6 L393.3,428.4 L395.8,429.4 L398.4,428.3 L400.9,428.9 L401.7,427.5 L402.2,426.0 L403.3,424.8 L401.0,422.5 L398.7,420.2 L397.6,417.0 L396.0,418.0 L394.9,419.6 L393.0,420.1Z" fill="#a0e0c1" stroke="#fff" stroke-width="0.45" stroke-opacity="0.5"/>
<path d="M391.4,414.2 L390.3,414.6 L389.3,415.0 L389.4,415.5 L389.4,415.9 L389.3,416.3 L390.5,417.3 L392.3,417.1 L393.5,418.2 L393.0,416.7 L392.5,415.3 L392.4,413.7Z" fill="#c1eeda" stroke="#fff" stroke-width="0.45" stroke-opacity="0.5"/>
<path d="M371.5,404.5 L371.4,404.0 L371.6,403.6 L367.6,404.4 L363.7,405.9 L359.6,406.1 L359.9,407.3 L359.6,408.5 L359.5,409.7 L360.4,410.2 L361.5,410.0 L362.3,410.6 L365.6,411.0 L368.8,410.1 L371.9,409.5 L371.9,408.0 L371.3,406.5 L371.2,404.9Z" fill="#c4efdc" stroke="#fff" stroke-width="0.45" stroke-opacity="0.5"/>
<path d="M428.0,452.2 L428.9,453.3 L429.1,454.8 L430.3,458.1 L432.8,460.4 L435.0,463.0 L435.5,462.3 L436.3,461.7 L436.5,460.8 L438.0,459.5 L439.1,457.9 L440.5,456.5 L440.9,454.2 L440.7,451.8 L441.2,449.5 L438.5,448.9 L435.8,448.6 L433.1,448.0 L431.2,449.0 L429.0,449.5 L427.4,451.0Z" fill="#c5f0dc" stroke="#fff" stroke-width="0.45" stroke-opacity="0.5"/>
<path d="M341.8,415.5 L338.4,415.3 L335.5,416.6 L336.8,419.6 L335.3,423.0 L336.6,426.0 L339.6,426.1 L342.4,426.6 L345.1,428.0 L346.1,427.9 L347.0,427.5 L347.8,427.0 L349.0,423.8 L348.1,420.4 L349.2,417.3 L348.1,415.7 L345.9,415.8 L344.7,414.3Z" fill="#c3efdb" stroke="#fff" stroke-width="0.45" stroke-opacity="0.5"/>
<path d="M376.3,336.1 L380.3,328.3 L376.4,325.4 L371.7,324.0 L367.4,321.8 L364.2,327.2 L357.1,328.2 L357.1,328.2 L358.0,328.7 L367.5,335.9 L373.8,339.5Z" fill="#cff3e3" stroke="#fff" stroke-width="0.45" stroke-opacity="0.5"/>
<path d="M419.7,384.0 L421.4,381.2 L418.6,379.3 L410.4,376.2 L407.9,375.1 L407.4,377.8 L408.4,378.3 L415.5,383.4 L418.9,385.4Z" fill="#c7f0de" stroke="#fff" stroke-width="0.45" stroke-opacity="0.5"/>
<path d="M376.5,417.9 L376.8,419.1 L376.5,420.2 L378.1,420.9 L379.7,421.5 L381.3,422.0 L381.0,421.8 L380.9,421.3 L380.6,421.0 L380.4,419.5 L381.5,418.3 L381.4,416.9 L380.2,416.6 L378.8,416.6 L377.6,416.0 L377.4,416.4 L377.1,416.7 L376.6,416.8Z" fill="#ccf2e1" stroke="#fff" stroke-width="0.45" stroke-opacity="0.5"/>
<path d="M375.9,400.0 L376.2,400.6 L376.7,401.3 L377.8,401.8 L378.5,402.9 L379.4,403.6 L379.9,403.4 L380.4,402.9 L381.0,402.8 L381.1,401.9 L381.2,401.0 L380.8,400.2 L379.5,399.7 L378.2,399.2 L376.8,398.9 L376.3,399.0 L375.8,399.1 L375.4,399.4Z" fill="#cdf3e2" stroke="#fff" stroke-width="0.45" stroke-opacity="0.5"/>
<path d="M395.2,410.2 L395.1,410.1 L395.1,409.9 L394.7,410.7 L394.6,411.6 L394.3,412.5 L395.2,414.5 L396.8,415.9 L398.7,417.0 L399.2,416.4 L399.5,415.8 L399.8,415.2 L399.9,414.0 L399.9,412.7 L400.0,411.5 L398.5,410.6 L396.9,410.6 L395.3,410.3Z" fill="#c4efdb" stroke="#fff" stroke-width="0.45" stroke-opacity="0.5"/>
<path d="M321.8,439.7 L319.9,437.1 L318.3,434.5 L317.4,431.4 L314.8,430.8 L312.1,430.6 L309.8,429.1 L305.1,432.0 L308.0,434.9 L311.0,439.9 L316.0,440.9 L320.0,442.9Z" fill="#cdf3e2" stroke="#fff" stroke-width="0.45" stroke-opacity="0.5"/>
<path d="M401.6,356.8 L400.8,357.8 L402.0,358.4 L409.2,361.4 L415.5,363.6 L414.9,357.9 L416.5,351.5 L412.0,353.1 L407.4,352.6 L402.7,351.9Z" fill="#cdf3e2" stroke="#fff" stroke-width="0.45" stroke-opacity="0.5"/>
<path d="M379.4,406.6 L379.0,407.3 L378.5,408.0 L379.3,408.9 L380.3,409.3 L381.3,409.7 L381.9,409.0 L382.3,408.2 L383.0,407.6 L383.0,407.4 L383.2,407.2 L383.2,407.0 L382.0,406.5 L380.8,406.0 L379.5,405.8Z" fill="#c4efdc" stroke="#fff" stroke-width="0.45" stroke-opacity="0.5"/>
<path d="M382.3,416.2 L383.3,416.6 L384.4,416.9 L384.7,416.9 L385.1,416.8 L385.4,416.9 L385.5,416.0 L386.0,415.2 L386.0,414.2 L385.2,413.6 L385.1,412.5 L384.3,412.0 L384.1,412.1 L383.9,412.2 L383.6,412.3 L383.0,413.0 L382.4,413.8 L382.1,414.7 L381.9,415.2 L381.7,415.6 L381.3,415.9Z" fill="#c8f1de" stroke="#fff" stroke-width="0.45" stroke-opacity="0.5"/>
<path d="M376.5,402.5 L375.7,403.7 L375.9,405.0 L376.1,405.2 L376.3,405.3 L376.4,405.5 L377.3,405.1 L378.4,405.3 L379.3,404.9 L379.4,404.5 L379.3,404.0 L379.4,403.6 L378.5,402.9 L377.8,401.8 L376.7,401.3Z" fill="#c8f1df" stroke="#fff" stroke-width="0.45" stroke-opacity="0.5"/>
<path d="M375.0,416.3 L374.0,414.7 L372.5,414.0 L372.2,415.2 L371.2,416.0 L370.7,417.1 L370.6,419.3 L370.2,421.5 L369.9,423.7 L371.0,424.2 L371.8,425.1 L372.6,426.0 L374.2,424.2 L375.1,422.0 L376.5,420.2 L376.8,419.1 L376.5,417.9 L376.6,416.8Z" fill="#c7f0de" stroke="#fff" stroke-width="0.45" stroke-opacity="0.5"/>
<path d="M375.1,422.0 L374.2,424.2 L372.6,426.0 L372.7,426.6 L372.7,427.2 L372.6,427.7 L376.5,427.5 L380.4,428.3 L384.3,427.7 L383.7,425.6 L382.4,423.9 L381.3,422.0 L379.7,421.5 L378.1,420.9 L376.5,420.2Z" fill="#bbecd6" stroke="#fff" stroke-width="0.45" stroke-opacity="0.5"/>
<path d="M397.0,397.2 L395.8,394.5 L394.0,392.0 L393.0,393.3 L393.4,395.1 L392.5,396.4 L392.8,396.7 L393.0,397.0 L393.2,397.3 L395.0,397.8 L396.9,397.7 L397.2,397.8ZM397.8,399.6 L397.9,399.7 L398.0,399.9 L398.1,400.0 L397.9,399.4Z" fill="#c3efdb" stroke="#fff" stroke-width="0.45" stroke-opacity="0.5"/>
<path d="M331.5,465.9 L330.8,462.8 L328.7,460.4 L327.5,457.5 L322.2,455.9 L320.3,454.2 L320.0,455.9 L321.0,461.9 L320.0,467.8 L321.2,469.3Z" fill="#caf2e0" stroke="#fff" stroke-width="0.45" stroke-opacity="0.5"/>
<path d="M388.4,398.0 L388.4,396.7 L387.9,395.6 L387.7,395.4 L387.4,395.3 L387.2,395.2 L386.6,396.2 L385.9,397.3 L385.4,398.3 L386.2,399.0 L387.0,399.8 L387.3,400.8 L387.7,400.2 L388.4,399.8 L388.9,399.2Z" fill="#c2efda" stroke="#fff" stroke-width="0.45" stroke-opacity="0.5"/>
<path d="M408.8,419.0 L408.6,420.0 L408.6,421.0 L413.1,424.1 L417.0,427.9 L420.6,432.0 L422.9,427.9 L424.4,423.4 L426.4,419.1 L425.6,417.6 L424.4,416.3 L423.7,414.8 L419.1,417.2 L414.0,417.6 L409.0,418.1Z" fill="#a4e2c4" stroke="#fff" stroke-width="0.45" stroke-opacity="0.5"/>
<path d="M397.9,400.1 L398.4,400.4 L398.6,400.9 L399.8,401.8 L401.4,402.2 L402.6,403.0 L404.6,401.9 L406.7,401.4 L408.8,401.0 L409.0,399.8 L410.0,399.0 L410.0,397.8 L407.5,398.0 L405.2,396.9 L402.7,397.0 L401.1,398.0 L400.0,399.5 L398.1,400.0 L398.0,399.9 L397.9,399.7 L397.8,399.6Z" fill="#bdedd7" stroke="#fff" stroke-width="0.45" stroke-opacity="0.5"/>
<path d="M442.3,359.7 L443.7,365.8 L444.8,371.8 L444.8,371.9 L446.3,371.5 L451.1,369.1 L452.9,364.3 L453.3,358.4 L451.6,356.1Z" fill="#c2efda" stroke="#fff" stroke-width="0.45" stroke-opacity="0.5"/>
<path d="M364.5,457.2 L363.2,458.2 L362.1,459.4 L362.0,463.6 L364.2,467.6 L363.4,471.9 L367.3,470.7 L371.2,472.4 L375.1,472.0 L374.2,467.9 L373.5,463.7 L374.0,459.4 L371.3,457.6 L368.2,456.8 L365.2,455.8Z" fill="#c3efdb" stroke="#fff" stroke-width="0.45" stroke-opacity="0.5"/>
<path d="M338.7,466.1 L334.1,464.6 L329.7,466.2 L331.8,470.2 L332.4,474.5 L333.9,474.8 L337.9,476.8 L337.9,476.8 L339.0,476.3 L344.2,472.9 L350.0,470.8 L349.4,470.6 L348.8,470.3 L348.4,469.8 L346.7,468.2 L344.6,467.0 L343.1,465.1Z" fill="#c9f1df" stroke="#fff" stroke-width="0.45" stroke-opacity="0.5"/>
<path d="M390.3,410.6 L390.0,410.2 L389.7,410.0 L389.4,411.4 L388.7,412.6 L388.0,413.9 L388.5,414.2 L388.9,414.6 L389.3,415.0 L390.3,414.6 L391.4,414.2 L392.4,413.7 L392.6,413.5 L392.6,413.2 L392.6,412.9 L392.0,412.1 L391.5,411.3 L390.7,410.7Z" fill="#c8f1de" stroke="#fff" stroke-width="0.45" stroke-opacity="0.5"/>
<path d="M393.4,395.1 L393.0,393.3 L394.0,392.0 L395.1,391.2 L395.3,389.7 L396.3,388.8 L394.7,388.4 L393.1,388.3 L391.6,387.8 L390.7,386.9 L389.5,386.6 L388.4,385.9 L388.7,389.0 L387.0,391.8 L387.5,394.8 L387.4,394.9 L387.3,395.1 L387.2,395.2 L387.4,395.3 L387.7,395.4 L387.9,395.6 L389.4,396.2 L391.1,395.7 L392.5,396.4Z" fill="#abe6ca" stroke="#fff" stroke-width="0.45" stroke-opacity="0.5"/>
<path d="M381.9,398.6 L381.4,399.4 L380.8,400.2 L381.2,401.0 L381.1,401.9 L381.0,402.8 L381.8,403.1 L382.7,403.0 L383.5,403.2 L383.7,402.9 L383.9,402.6 L384.1,402.4 L384.3,401.4 L384.0,400.5 L383.9,399.6 L383.4,399.2 L383.2,398.5 L382.7,398.1Z" fill="#c6f0dd" stroke="#fff" stroke-width="0.45" stroke-opacity="0.5"/>
<path d="M371.8,425.1 L371.0,424.2 L369.9,423.7 L368.1,424.8 L366.3,426.0 L364.2,426.5 L363.5,429.0 L361.6,430.8 L360.3,432.9 L359.5,433.4 L358.5,433.3 L357.7,433.8 L359.6,435.7 L362.2,436.3 L364.2,438.0 L367.9,437.1 L371.7,437.8 L375.5,437.3 L373.4,434.4 L374.3,430.7 L372.6,427.7 L372.7,427.2 L372.7,426.6 L372.6,426.0Z" fill="#beedd7" stroke="#fff" stroke-width="0.45" stroke-opacity="0.5"/>
<path d="M371.3,406.5 L371.9,408.0 L371.9,409.5 L372.0,409.8 L372.1,410.1 L372.3,410.4 L373.5,409.6 L375.1,409.6 L376.3,408.7 L376.0,407.7 L376.6,406.6 L376.4,405.5 L376.3,405.3 L376.1,405.2 L375.9,405.0 L374.3,404.5 L372.8,405.3 L371.2,404.9Z" fill="#c6f0dd" stroke="#fff" stroke-width="0.45" stroke-opacity="0.5"/>
<path d="M391.0,405.5 L391.2,405.1 L391.1,404.7 L390.7,403.9 L390.2,403.3 L389.5,402.8 L389.1,402.7 L388.6,402.8 L388.2,403.0 L388.4,404.0 L388.0,405.0 L387.7,405.9 L387.6,406.1 L387.5,406.2 L387.3,406.4 L388.6,406.5 L389.8,405.9 L391.1,406.0Z" fill="#c9f1df" stroke="#fff" stroke-width="0.45" stroke-opacity="0.5"/>
<path d="M391.7,407.9 L391.8,407.6 L392.1,407.5 L391.7,407.0 L391.6,406.4 L391.1,406.0 L389.8,405.9 L388.6,406.5 L387.3,406.4 L387.1,407.4 L387.4,408.4 L387.4,409.4 L388.1,409.6 L388.9,409.9 L389.7,410.0 L390.0,410.2 L390.3,410.6 L390.7,410.7 L390.8,409.8 L391.4,409.0 L391.6,408.1Z" fill="#caf2e0" stroke="#fff" stroke-width="0.45" stroke-opacity="0.5"/>
<path d="M341.7,458.5 L343.2,461.8 L343.1,465.1 L344.6,467.0 L346.7,468.2 L348.4,469.8 L351.7,466.4 L351.4,460.9 L355.0,457.6 L354.0,456.0 L351.9,455.6 L350.8,453.9 L348.0,454.0 L345.2,454.3 L342.5,455.1Z" fill="#c2eeda" stroke="#fff" stroke-width="0.45" stroke-opacity="0.5"/>
<path d="M392.8,419.5 L393.0,418.9 L393.0,418.4 L391.4,419.5 L389.6,420.4 L388.2,421.7 L387.8,421.6 L387.4,421.5 L387.1,421.4 L386.2,423.5 L386.1,425.8 L385.2,427.9 L386.4,428.4 L387.3,429.2 L388.4,429.8 L390.1,429.8 L391.7,429.0 L393.3,428.4 L393.9,425.6 L394.1,422.8 L393.0,420.1Z" fill="#b0e8ce" stroke="#fff" stroke-width="0.45" stroke-opacity="0.5"/>
<path d="M409.7,410.5 L409.4,413.1 L409.7,415.5 L409.7,416.4 L409.1,417.2 L409.0,418.1 L414.0,417.6 L419.1,417.2 L423.7,414.8 L423.6,414.3 L423.6,413.8 L423.8,413.3 L422.7,409.7 L419.5,407.1 L419.1,403.2 L417.2,404.0 L415.2,403.9 L413.1,403.7 L411.3,404.7 L409.9,406.1 L409.0,408.1Z" fill="#abe6ca" stroke="#fff" stroke-width="0.45" stroke-opacity="0.5"/>
<path d="M381.7,415.6 L381.9,415.2 L382.1,414.7 L380.9,413.7 L379.5,413.1 L378.3,412.3 L378.3,412.4 L378.4,412.4 L378.4,412.6 L378.5,413.8 L378.0,414.9 L377.6,416.0 L378.8,416.6 L380.2,416.6 L381.4,416.9 L381.4,416.5 L381.4,416.2 L381.3,415.9Z" fill="#ccf2e1" stroke="#fff" stroke-width="0.45" stroke-opacity="0.5"/>
<path d="M324.3,424.2 L326.8,426.8 L330.1,428.2 L332.4,427.7 L334.4,426.4 L336.6,426.0 L335.3,423.0 L336.8,419.6 L335.5,416.6 L329.7,415.0 L328.9,418.0 L321.9,422.0 L321.4,422.1Z" fill="#cff4e3" stroke="#fff" stroke-width="0.45" stroke-opacity="0.5"/>
<path d="M393.0,383.4 L391.6,387.8 L393.1,388.3 L394.7,388.4 L396.3,388.8 L397.8,389.8 L399.7,389.8 L401.1,390.9 L403.0,388.4 L403.9,387.3 L400.2,385.4 L397.1,383.6 L392.8,382.0Z" fill="#b2e9d0" stroke="#fff" stroke-width="0.45" stroke-opacity="0.5"/>
<path d="M391.3,400.7 L391.4,400.7 L391.4,400.7 L392.1,399.6 L392.4,398.4 L393.2,397.3 L393.0,397.0 L392.8,396.7 L392.5,396.4 L391.1,395.7 L389.4,396.2 L387.9,395.6 L388.4,396.7 L388.4,398.0 L388.9,399.2 L389.7,399.7 L390.5,400.2 L391.3,400.8Z" fill="#c9f1df" stroke="#fff" stroke-width="0.45" stroke-opacity="0.5"/>
<path d="M348.1,420.4 L349.0,423.8 L347.8,427.0 L352.2,428.4 L356.7,429.8 L360.3,432.9 L361.6,430.8 L363.5,429.0 L364.2,426.5 L361.1,423.6 L360.5,419.3 L358.0,416.1 L355.1,416.9 L352.1,416.7 L349.2,417.3Z" fill="#bdedd7" stroke="#fff" stroke-width="0.45" stroke-opacity="0.5"/>
<path d="M392.6,413.2 L392.6,413.5 L392.4,413.7 L392.5,415.3 L393.0,416.7 L393.5,418.2 L393.4,418.3 L393.2,418.4 L393.0,418.4 L393.0,418.9 L392.8,419.5 L393.0,420.1 L394.9,419.6 L396.0,418.0 L397.6,417.0 L398.0,417.1 L398.3,417.0 L398.7,417.0 L396.8,415.9 L395.2,414.5 L394.3,412.5 L393.8,412.6 L393.2,412.7 L392.6,412.9Z" fill="#c1eeda" stroke="#fff" stroke-width="0.45" stroke-opacity="0.5"/>
<path d="M414.6,460.4 L415.1,461.2 L415.1,462.1 L415.2,463.1 L415.8,463.9 L416.2,464.8 L419.5,466.2 L423.1,464.7 L426.3,466.0 L429.4,465.5 L432.4,464.9 L435.0,463.0 L432.8,460.4 L430.3,458.1 L429.1,454.8 L423.7,454.8 L419.7,459.1 L414.4,459.5Z" fill="#c5f0dc" stroke="#fff" stroke-width="0.45" stroke-opacity="0.5"/>
<path d="M378.9,395.9 L378.4,397.9 L376.8,398.9 L378.2,399.2 L379.5,399.7 L380.8,400.2 L381.4,399.4 L381.9,398.6 L382.7,398.1 L382.1,397.1 L381.8,396.1 L381.6,395.0 L381.2,395.0 L380.8,395.0 L380.4,394.8Z" fill="#caf1e0" stroke="#fff" stroke-width="0.45" stroke-opacity="0.5"/>
<path d="M407.6,336.5 L399.6,330.8 L390.3,325.0 L390.3,325.0 L391.6,329.4 L392.1,334.2 L395.0,338.2 L397.8,339.0 L399.1,342.0 L401.8,342.9Z" fill="#cdf3e2" stroke="#fff" stroke-width="0.45" stroke-opacity="0.5"/>
<path d="M347.7,439.8 L345.6,437.5 L344.6,434.8 L339.2,435.6 L334.6,438.1 L329.8,440.4 L332.0,443.4 L332.9,446.9 L334.0,450.3 L335.3,451.1 L336.6,451.6 L338.0,451.8 L340.6,447.9 L344.2,445.0 L348.3,442.7Z" fill="#beedd8" stroke="#fff" stroke-width="0.45" stroke-opacity="0.5"/>
<path d="M387.3,413.9 L386.7,414.3 L386.0,414.2 L386.0,415.2 L385.5,416.0 L385.4,416.9 L386.4,416.9 L387.2,417.3 L388.2,417.3 L388.4,416.9 L388.9,416.7 L389.3,416.3 L389.4,415.9 L389.4,415.5 L389.3,415.0 L388.9,414.6 L388.5,414.2 L388.0,413.9Z" fill="#c3efdb" stroke="#fff" stroke-width="0.45" stroke-opacity="0.5"/>
<path d="M347.3,395.9 L348.2,395.3 L349.1,394.8 L349.6,393.8 L349.6,391.4 L349.0,389.0 L349.4,386.6 L336.9,385.5 L336.4,386.0 L336.9,388.9 L338.7,393.5 L339.2,395.1Z" fill="#a3e2c3" stroke="#fff" stroke-width="0.45" stroke-opacity="0.5"/>
<path d="M385.0,411.2 L385.4,410.3 L385.9,409.4 L385.0,408.7 L384.0,408.1 L383.0,407.6 L382.3,408.2 L381.9,409.0 L381.3,409.7 L381.4,410.1 L381.4,410.4 L381.3,410.8 L382.2,411.1 L382.7,412.0 L383.6,412.3 L383.9,412.2 L384.1,412.1 L384.3,412.0Z" fill="#c2efda" stroke="#fff" stroke-width="0.45" stroke-opacity="0.5"/>
<path d="M382.4,413.8 L383.0,413.0 L383.6,412.3 L382.7,412.0 L382.2,411.1 L381.3,410.8 L380.7,411.5 L379.6,411.6 L378.9,412.3 L378.7,412.3 L378.5,412.2 L378.3,412.3 L379.5,413.1 L380.9,413.7 L382.1,414.7Z" fill="#c8f1de" stroke="#fff" stroke-width="0.45" stroke-opacity="0.5"/>
<path d="M377.9,408.4 L377.1,408.5 L376.4,408.9 L377.2,410.1 L377.8,411.4 L378.9,412.3 L379.6,411.6 L380.7,411.5 L381.3,410.8 L381.4,410.4 L381.4,410.1 L381.3,409.7 L380.3,409.3 L379.3,408.9 L378.5,408.0Z" fill="#c9f1df" stroke="#fff" stroke-width="0.45" stroke-opacity="0.5"/>
<path d="M380.8,395.0 L381.2,395.0 L381.6,395.0 L381.9,394.8 L382.0,394.5 L382.2,394.3 L381.6,391.2 L381.5,388.0 L380.7,385.0 L379.5,384.6 L378.2,384.5 L376.9,384.6 L375.2,386.4 L373.1,387.5 L370.9,388.5 L373.3,391.7 L377.4,392.4 L380.4,394.8Z" fill="#a4e2c4" stroke="#fff" stroke-width="0.45" stroke-opacity="0.5"/>
<path d="M395.5,404.4 L396.2,404.6 L396.9,404.4 L397.7,403.3 L398.0,402.0 L398.6,400.9 L398.4,400.4 L397.9,400.1 L397.8,399.6 L398.1,399.2 L398.4,399.0 L398.6,398.6 L396.8,399.7 L394.8,400.5 L393.3,402.0 L393.5,402.4 L393.6,402.8 L393.7,403.3 L394.0,403.8 L394.4,404.1 L394.8,404.4Z" fill="#c2efda" stroke="#fff" stroke-width="0.45" stroke-opacity="0.5"/>
<path d="M381.8,396.1 L382.1,397.1 L382.7,398.1 L383.2,398.5 L383.4,399.2 L383.9,399.6 L384.4,399.2 L385.0,398.9 L385.4,398.3 L385.9,397.3 L386.6,396.2 L387.2,395.2 L387.3,395.1 L387.4,394.9 L387.5,394.8 L385.8,394.4 L383.9,394.9 L382.2,394.3 L382.0,394.5 L381.9,394.8 L381.6,395.0Z" fill="#c4efdc" stroke="#fff" stroke-width="0.45" stroke-opacity="0.5"/>
<path d="M388.9,409.9 L388.1,409.6 L387.4,409.4 L386.9,409.4 L386.4,409.4 L385.9,409.4 L385.4,410.3 L385.0,411.2 L384.3,412.0 L385.1,412.5 L385.2,413.6 L386.0,414.2 L386.7,414.3 L387.3,413.9 L388.0,413.9 L388.7,412.6 L389.4,411.4 L389.7,410.0Z" fill="#c7f0de" stroke="#fff" stroke-width="0.45" stroke-opacity="0.5"/>
<path d="M383.7,403.8 L383.4,404.6 L383.6,405.2 L385.1,405.1 L386.4,405.3 L387.7,405.9 L388.0,405.0 L388.4,404.0 L388.2,403.0 L387.9,402.7 L387.6,402.4 L387.3,402.0 L386.2,401.8 L385.2,402.3 L384.1,402.4 L383.9,402.6 L383.7,402.9 L383.5,403.2Z" fill="#c7f0de" stroke="#fff" stroke-width="0.45" stroke-opacity="0.5"/>
<path d="M443.2,428.0 L443.1,427.7 L437.7,418.7 L436.3,416.7 L436.3,416.7 L432.9,421.5 L433.2,424.1 L433.9,426.7 L435.3,429.1Z" fill="#a4e2c4" stroke="#fff" stroke-width="0.45" stroke-opacity="0.5"/>
<path d="M349.0,389.0 L349.6,391.4 L349.6,393.8 L353.3,392.3 L356.2,389.3 L360.2,388.5 L361.6,385.4 L361.1,382.1 L360.9,378.8 L358.8,377.1 L356.3,376.3 L353.6,376.2 L352.9,379.9 L350.1,382.8 L349.4,386.6Z" fill="#a6e3c6" stroke="#fff" stroke-width="0.45" stroke-opacity="0.5"/>
<path d="M393.2,418.4 L393.4,418.3 L393.5,418.2 L392.3,417.1 L390.5,417.3 L389.3,416.3 L388.9,416.7 L388.4,416.9 L388.2,417.3 L388.5,418.8 L388.1,420.3 L388.2,421.7 L389.6,420.4 L391.4,419.5 L393.0,418.4Z" fill="#c6f0dd" stroke="#fff" stroke-width="0.45" stroke-opacity="0.5"/>
<path d="M381.4,416.2 L381.4,416.5 L381.4,416.9 L381.5,418.3 L380.4,419.5 L380.6,421.0 L382.1,420.6 L383.2,419.6 L384.6,418.9 L384.5,418.2 L384.6,417.5 L384.4,416.9 L383.3,416.6 L382.3,416.2 L381.3,415.9Z" fill="#c1eeda" stroke="#fff" stroke-width="0.45" stroke-opacity="0.5"/>
<path d="M396.9,410.6 L398.5,410.6 L400.0,411.5 L400.7,410.4 L401.2,409.2 L402.0,408.2 L401.8,408.0 L401.6,407.8 L401.4,407.5 L400.4,407.1 L399.3,407.5 L398.2,407.4 L397.6,407.4 L397.0,407.5 L396.5,407.4 L396.4,408.5 L395.6,409.3 L395.3,410.3Z" fill="#c2eeda" stroke="#fff" stroke-width="0.45" stroke-opacity="0.5"/>
<path d="M368.8,410.1 L365.6,411.0 L362.3,410.6 L364.5,413.6 L367.5,415.4 L370.7,417.1 L371.2,416.0 L372.2,415.2 L372.5,414.0 L372.9,413.5 L373.5,413.1 L374.0,412.7 L373.2,412.1 L372.6,411.4 L372.3,410.4 L372.1,410.1 L372.0,409.8 L371.9,409.5Z" fill="#bbecd5" stroke="#fff" stroke-width="0.45" stroke-opacity="0.5"/>
<path d="M386.4,409.4 L386.9,409.4 L387.4,409.4 L387.4,408.4 L387.1,407.4 L387.3,406.4 L387.5,406.2 L387.6,406.1 L387.7,405.9 L386.4,405.3 L385.1,405.1 L383.6,405.2 L383.6,405.9 L383.2,406.4 L383.2,407.0 L383.2,407.2 L383.0,407.4 L383.0,407.6 L384.0,408.1 L385.0,408.7 L385.9,409.4Z" fill="#cbf2e1" stroke="#fff" stroke-width="0.45" stroke-opacity="0.5"/>
<path d="M393.6,402.8 L393.5,402.4 L393.3,402.0 L392.7,401.6 L392.0,401.2 L391.4,400.7 L391.4,400.7 L391.3,400.7 L391.3,400.8 L390.5,401.3 L389.9,401.9 L389.5,402.8 L390.2,403.3 L390.7,403.9 L391.1,404.7 L391.9,404.1 L392.9,403.8 L393.7,403.3Z" fill="#c6f0dd" stroke="#fff" stroke-width="0.45" stroke-opacity="0.5"/>
<path d="M441.2,440.8 L433.1,439.2 L432.3,442.2 L434.0,445.1 L433.1,448.0 L435.8,448.6 L438.5,448.9 L441.2,449.5 L446.2,445.6 L450.7,444.3 L448.5,438.9Z" fill="#aee7cc" stroke="#fff" stroke-width="0.45" stroke-opacity="0.5"/>
<path d="M437.0,359.2 L439.7,359.2 L442.3,359.7 L451.6,356.1 L451.1,355.4 L445.1,352.4 L438.0,350.0 L437.6,349.9 L434.4,358.2Z" fill="#bbecd6" stroke="#fff" stroke-width="0.45" stroke-opacity="0.5"/>
<path d="M376.6,406.6 L376.0,407.7 L376.3,408.7 L376.4,408.8 L376.4,408.8 L376.4,408.9 L377.1,408.5 L377.9,408.4 L378.5,408.0 L379.0,407.3 L379.4,406.6 L379.5,405.8 L379.5,405.4 L379.3,405.2 L379.3,404.9 L378.4,405.3 L377.3,405.1 L376.4,405.5Z" fill="#c9f1df" stroke="#fff" stroke-width="0.45" stroke-opacity="0.5"/>
<path d="M432.4,464.9 L429.4,465.5 L426.3,466.0 L428.2,470.1 L432.3,469.5 L441.3,468.1 L442.1,467.9 L436.5,460.8 L436.3,461.7 L435.5,462.3 L435.0,463.0Z" fill="#c0eed9" stroke="#fff" stroke-width="0.45" stroke-opacity="0.5"/>
<path d="M377.1,416.7 L377.4,416.4 L377.6,416.0 L378.0,414.9 L378.5,413.8 L378.4,412.6 L377.0,413.0 L375.5,412.8 L374.0,412.7 L373.5,413.1 L372.9,413.5 L372.5,414.0 L374.0,414.7 L375.0,416.3 L376.6,416.8Z" fill="#caf2e0" stroke="#fff" stroke-width="0.45" stroke-opacity="0.5"/>
<path d="M353.8,309.0 L352.0,310.2 L348.0,313.5 L344.8,318.0 L349.6,324.0 L353.8,326.4Z" fill="#cff3e3" stroke="#fff" stroke-width="0.45" stroke-opacity="0.5"/>
<path d="M396.9,397.7 L395.0,397.8 L393.2,397.3 L392.4,398.4 L392.1,399.6 L391.4,400.7 L392.0,401.2 L392.7,401.6 L393.3,402.0 L394.8,400.5 L396.8,399.7 L398.6,398.6Z" fill="#c1eeda" stroke="#fff" stroke-width="0.45" stroke-opacity="0.5"/>
<path d="M385.2,402.3 L386.2,401.8 L387.3,402.0 L387.2,401.6 L387.3,401.2 L387.3,400.8 L387.0,399.8 L386.2,399.0 L385.4,398.3 L385.0,398.9 L384.4,399.2 L383.9,399.6 L384.0,400.5 L384.3,401.4 L384.1,402.4Z" fill="#c6f0dd" stroke="#fff" stroke-width="0.45" stroke-opacity="0.5"/>
<path d="M392.8,407.3 L393.4,407.1 L394.1,406.8 L394.2,405.9 L394.4,405.1 L394.8,404.4 L394.4,404.1 L394.0,403.8 L393.7,403.3 L392.9,403.8 L391.9,404.1 L391.1,404.7 L391.2,405.1 L391.0,405.5 L391.1,406.0 L391.6,406.4 L391.7,407.0 L392.1,407.5Z" fill="#c2eeda" stroke="#fff" stroke-width="0.45" stroke-opacity="0.5"/>
<path d="M352.8,444.0 L353.1,447.3 L355.5,449.1 L357.9,447.3 L360.7,446.5 L363.6,446.0 L363.1,443.3 L364.6,440.7 L364.2,438.0 L362.2,436.3 L359.6,435.7 L357.7,433.8 L355.0,436.4 L352.3,438.9 L350.5,442.2Z" fill="#c0eed9" stroke="#fff" stroke-width="0.45" stroke-opacity="0.5"/>
<path d="M401.6,407.8 L401.8,408.0 L402.0,408.2 L404.3,407.6 L406.7,408.7 L409.0,408.1 L409.9,406.1 L411.3,404.7 L413.1,403.7 L411.9,402.6 L410.4,401.7 L408.8,401.0 L406.7,401.4 L404.6,401.9 L402.6,403.0 L402.5,404.6 L401.7,405.9 L401.4,407.5Z" fill="#b2e9cf" stroke="#fff" stroke-width="0.45" stroke-opacity="0.5"/>
<path d="M402.3,394.9 L401.9,392.9 L401.1,390.9 L399.7,389.8 L397.8,389.8 L396.3,388.8 L395.3,389.7 L395.1,391.2 L394.0,392.0 L395.8,394.5 L397.0,397.2 L398.1,400.0 L400.0,399.5 L401.1,398.0 L402.7,397.0Z" fill="#9cdfbe" stroke="#fff" stroke-width="0.45" stroke-opacity="0.5"/>
<path d="M392.6,409.0 L393.7,409.7 L395.1,409.9 L395.1,410.1 L395.2,410.2 L395.3,410.3 L395.6,409.3 L396.4,408.5 L396.5,407.4 L395.7,407.3 L394.9,407.0 L394.1,406.8 L393.4,407.1 L392.8,407.3 L392.1,407.5 L391.8,407.6 L391.7,407.9 L391.6,408.1Z" fill="#c7f0dd" stroke="#fff" stroke-width="0.45" stroke-opacity="0.5"/>
<path d="M387.4,421.5 L387.8,421.6 L388.2,421.7 L388.1,420.3 L388.5,418.8 L388.2,417.3 L387.2,417.3 L386.4,416.9 L385.4,416.9 L385.1,416.8 L384.7,416.9 L384.4,416.9 L384.6,417.5 L384.5,418.2 L384.6,418.9 L385.5,419.6 L386.3,420.5 L387.1,421.4Z" fill="#c7f0de" stroke="#fff" stroke-width="0.45" stroke-opacity="0.5"/>
<path d="M388.6,402.8 L389.1,402.7 L389.5,402.8 L389.9,401.9 L390.5,401.3 L391.3,400.8 L390.5,400.2 L389.7,399.7 L388.9,399.2 L388.4,399.8 L387.7,400.2 L387.3,400.8 L387.3,401.2 L387.2,401.6 L387.3,402.0 L387.6,402.4 L387.9,402.7 L388.2,403.0Z" fill="#cbf2e1" stroke="#fff" stroke-width="0.45" stroke-opacity="0.5"/>
<path d="M368.7,387.8 L369.2,390.4 L369.9,393.0 L373.1,392.1 L376.4,391.1 L379.7,390.7 L379.4,388.3 L378.6,386.1 L378.3,383.7 L375.0,384.3 L371.8,384.8 L368.5,385.1Z" fill="#3f7e5e" stroke="#fff" stroke-width="0.45" stroke-opacity="0.5"/>
<path d="M359.7,402.1 L360.4,405.2 L361.5,408.1 L364.3,408.2 L367.1,408.2 L369.9,407.5 L369.8,405.1 L369.5,402.7 L368.5,400.5 L365.3,399.9 L362.0,399.1 L358.7,399.1Z" fill="#56a27b" stroke="#fff" stroke-width="0.45" stroke-opacity="0.5"/>
<path d="M341.9,393.7 L343.2,396.8 L343.8,400.1 L344.7,403.3 L347.5,403.3 L350.3,402.6 L353.1,402.1 L355.9,401.9 L355.2,399.1 L354.2,396.4 L353.3,393.6 L353.1,390.7 L350.0,390.3 L346.8,390.8 L343.6,391.0 L340.5,390.7Z" fill="#76cc9e" stroke="#fff" stroke-width="0.45" stroke-opacity="0.5"/>
<path d="M397.4,428.4 L397.8,431.2 L401.2,431.6 L404.5,430.8 L407.9,431.6 L411.2,430.9 L414.6,431.2 L414.3,428.4 L414.6,425.7 L411.2,426.2 L407.9,426.2 L404.5,425.2 L401.2,425.3 L397.8,425.7Z" fill="#4b916e" stroke="#fff" stroke-width="0.45" stroke-opacity="0.5"/>
<path d="M397.6,434.0 L397.8,436.8 L397.7,439.6 L398.4,442.4 L397.8,445.2 L401.1,445.1 L404.3,444.9 L407.6,445.2 L407.5,442.4 L407.3,439.6 L408.0,436.8 L407.2,434.0 L407.6,431.2 L404.3,430.6 L401.1,431.1 L397.8,431.2Z" fill="#4f9772" stroke="#fff" stroke-width="0.45" stroke-opacity="0.5"/>
<path d="M387.3,430.3 L387.8,433.7 L388.7,437.0 L388.5,440.5 L389.4,443.8 L392.2,444.4 L395.1,444.3 L397.8,445.2 L398.2,442.2 L398.2,439.1 L397.9,436.1 L398.1,433.1 L398.3,430.0 L397.8,427.0 L395.0,427.4 L392.2,426.8 L389.4,427.3 L386.6,427.0Z" fill="#6fc296" stroke="#fff" stroke-width="0.45" stroke-opacity="0.5"/>
<path d="M425.5,406.4 L423.0,407.0 L422.7,410.0 L422.6,413.0 L422.6,416.0 L423.3,419.0 L422.8,422.0 L423.0,425.0 L425.2,427.5 L427.6,429.7 L430.0,432.0 L432.1,433.9 L434.3,435.7 L436.1,437.9 L438.4,439.6 L440.0,442.0 L442.6,441.3 L445.4,440.8 L448.0,440.0 L447.1,436.8 L446.0,433.6 L444.1,430.8 L443.6,428.6 L443.1,427.7 L437.7,418.7 L431.4,409.7 L427.5,405.4Z" fill="#82d2a8" stroke="#fff" stroke-width="0.45" stroke-opacity="0.5"/>
<path d="M421.1,436.0 L422.9,438.9 L424.3,442.1 L425.8,445.2 L428.5,444.4 L431.3,444.3 L434.1,443.8 L433.6,440.4 L432.4,437.2 L431.3,434.0 L428.6,433.3 L425.8,433.1 L422.9,433.2 L420.2,432.6Z" fill="#6fc296" stroke="#fff" stroke-width="0.45" stroke-opacity="0.5"/>
<path d="M361.3,434.6 L363.1,436.5 L363.8,438.8 L366.6,437.7 L369.6,437.9 L372.5,437.3 L371.0,434.4 L369.6,431.5 L366.6,431.2 L363.8,432.3 L360.8,432.2Z" fill="#8dd7b1" stroke="#fff" stroke-width="0.45" stroke-opacity="0.5"/>
<path d="M352.8,418.3 L352.6,421.2 L353.0,424.0 L356.3,423.6 L359.7,423.7 L363.0,424.0 L362.6,421.2 L363.5,418.3 L363.0,415.5 L359.7,415.0 L356.3,415.2 L353.0,415.5Z" fill="#99ddbb" stroke="#fff" stroke-width="0.45" stroke-opacity="0.5"/>
<path d="M382.4,447.8 L382.7,450.5 L382.8,453.2 L383.0,456.0 L386.0,456.1 L389.0,456.2 L392.0,455.9 L395.0,456.0 L395.1,453.2 L395.6,450.5 L394.4,447.8 L395.0,445.0 L392.0,445.5 L389.0,444.9 L386.0,445.5 L383.0,445.0Z" fill="#8dd7b1" stroke="#fff" stroke-width="0.45" stroke-opacity="0.5"/>
</g>
<rect x="280" y="302.3" width="197.4" height="197" fill="none" stroke="#333" stroke-width="1"/>
<text transform="translate(287.30,319.60) scale(1,1.04)" font-size="13.35" text-anchor="start" font-weight="normal" fill="#000" >Dispatching</text>
<text transform="translate(287.30,335.20) scale(1,1.04)" font-size="13.35" text-anchor="start" font-weight="normal" fill="#000" >power needs</text>
<text transform="translate(287.30,350.80) scale(1,1.04)" font-size="13.35" text-anchor="start" font-weight="normal" fill="#000" >before scheduling</text>
<text transform="translate(287.30,366.40) scale(1,1.04)" font-size="13.35" text-anchor="start" font-weight="normal" fill="#000" >(MWh)</text>
<path d="M460.3,308 L449.2,337.6 L460.3,328.6 Z" fill="#fff" stroke="#000" stroke-width="0.6" stroke-linejoin="miter"/>
<path d="M460.3,308 L471.6,337.6 L460.3,328.6 Z" fill="#000" stroke="#000" stroke-width="0.6"/>
<text transform="translate(460.30,347.10) scale(1,1.04)" font-size="13.45" text-anchor="middle" font-weight="normal" fill="#000" >N</text>
<linearGradient id="cb0" x1="0" y1="1" x2="0" y2="0"><stop offset="0" stop-color="#f3d8e5"/><stop offset="0.25" stop-color="#e8b4cc"/><stop offset="0.5" stop-color="#d4769e"/><stop offset="0.75" stop-color="#a8426e"/><stop offset="1" stop-color="#702448"/></linearGradient>
<rect x="288.6" y="434.4" width="5.2" height="55" fill="url(#cb0)" stroke="#444" stroke-width="0.8"/>
<line x1="293.8" y1="434.4" x2="295.8" y2="434.4" stroke="#444" stroke-width="0.8"/>
<text transform="translate(300.60,439.10) scale(1,1.04)" font-size="13.45" text-anchor="start" font-weight="normal" fill="#000" >40</text>
<line x1="293.8" y1="461.9" x2="295.8" y2="461.9" stroke="#444" stroke-width="0.8"/>
<text transform="translate(300.60,466.60) scale(1,1.04)" font-size="13.45" text-anchor="start" font-weight="normal" fill="#000" >20</text>
<line x1="293.8" y1="489.4" x2="295.8" y2="489.4" stroke="#444" stroke-width="0.8"/>
<text transform="translate(300.60,494.10) scale(1,1.04)" font-size="13.45" text-anchor="start" font-weight="normal" fill="#000" >0</text>
<rect x="403.3" y="484.4" width="21.8" height="4.6" fill="#000"/>
<rect x="425.1" y="484.4" width="21.6" height="4.6" fill="#fff" stroke="#999" stroke-width="0.6"/>
<text transform="translate(403.30,480.40) scale(1,1.04)" font-size="13.45" text-anchor="middle" font-weight="normal" fill="#000" >0</text>
<text transform="translate(425.10,480.40) scale(1,1.04)" font-size="13.45" text-anchor="middle" font-weight="normal" fill="#000" >15</text>
<text transform="translate(446.70,480.40) scale(1,1.04)" font-size="13.45" text-anchor="middle" font-weight="normal" fill="#000" >30</text>
<text transform="translate(449.60,491.60) scale(1,1.04)" font-size="13.45" text-anchor="start" font-weight="normal" fill="#000" >KM</text>
<rect x="486" y="302.3" width="197.4" height="197" fill="none" stroke="#333" stroke-width="1"/>
<text transform="translate(493.30,319.60) scale(1,1.04)" font-size="13.35" text-anchor="start" font-weight="normal" fill="#000" >Reduced dispatching</text>
<text transform="translate(493.30,335.20) scale(1,1.04)" font-size="13.35" text-anchor="start" font-weight="normal" fill="#000" >power needs</text>
<text transform="translate(493.30,350.80) scale(1,1.04)" font-size="13.35" text-anchor="start" font-weight="normal" fill="#000" >after scheduling</text>
<text transform="translate(493.30,366.40) scale(1,1.04)" font-size="13.35" text-anchor="start" font-weight="normal" fill="#000" >(MWh)</text>
<path d="M666.3,308 L655.1999999999999,337.6 L666.3,328.6 Z" fill="#fff" stroke="#000" stroke-width="0.6" stroke-linejoin="miter"/>
<path d="M666.3,308 L677.5999999999999,337.6 L666.3,328.6 Z" fill="#000" stroke="#000" stroke-width="0.6"/>
<text transform="translate(666.30,347.10) scale(1,1.04)" font-size="13.45" text-anchor="middle" font-weight="normal" fill="#000" >N</text>
<linearGradient id="cb206" x1="0" y1="1" x2="0" y2="0"><stop offset="0" stop-color="#d6f6e8"/><stop offset="0.25" stop-color="#b0e8ce"/><stop offset="0.5" stop-color="#76cc9e"/><stop offset="0.75" stop-color="#529c76"/><stop offset="1" stop-color="#3a7658"/></linearGradient>
<rect x="494.6" y="434.4" width="5.2" height="55" fill="url(#cb206)" stroke="#444" stroke-width="0.8"/>
<line x1="499.8" y1="434.4" x2="501.8" y2="434.4" stroke="#444" stroke-width="0.8"/>
<text transform="translate(506.60,439.10) scale(1,1.04)" font-size="13.45" text-anchor="start" font-weight="normal" fill="#000" >5</text>
<line x1="499.8" y1="461.9" x2="501.8" y2="461.9" stroke="#444" stroke-width="0.8"/>
<text transform="translate(506.60,466.60) scale(1,1.04)" font-size="13.45" text-anchor="start" font-weight="normal" fill="#000" >2.5</text>
<line x1="499.8" y1="489.4" x2="501.8" y2="489.4" stroke="#444" stroke-width="0.8"/>
<text transform="translate(506.60,494.10) scale(1,1.04)" font-size="13.45" text-anchor="start" font-weight="normal" fill="#000" >0</text>
<rect x="609.3" y="484.4" width="21.8" height="4.6" fill="#000"/>
<rect x="631.0999999999999" y="484.4" width="21.6" height="4.6" fill="#fff" stroke="#999" stroke-width="0.6"/>
<text transform="translate(609.30,480.40) scale(1,1.04)" font-size="13.45" text-anchor="middle" font-weight="normal" fill="#000" >0</text>
<text transform="translate(631.10,480.40) scale(1,1.04)" font-size="13.45" text-anchor="middle" font-weight="normal" fill="#000" >15</text>
<text transform="translate(652.70,480.40) scale(1,1.04)" font-size="13.45" text-anchor="middle" font-weight="normal" fill="#000" >30</text>
<text transform="translate(655.60,491.60) scale(1,1.04)" font-size="13.45" text-anchor="start" font-weight="normal" fill="#000" >KM</text>
</svg></body></html>
